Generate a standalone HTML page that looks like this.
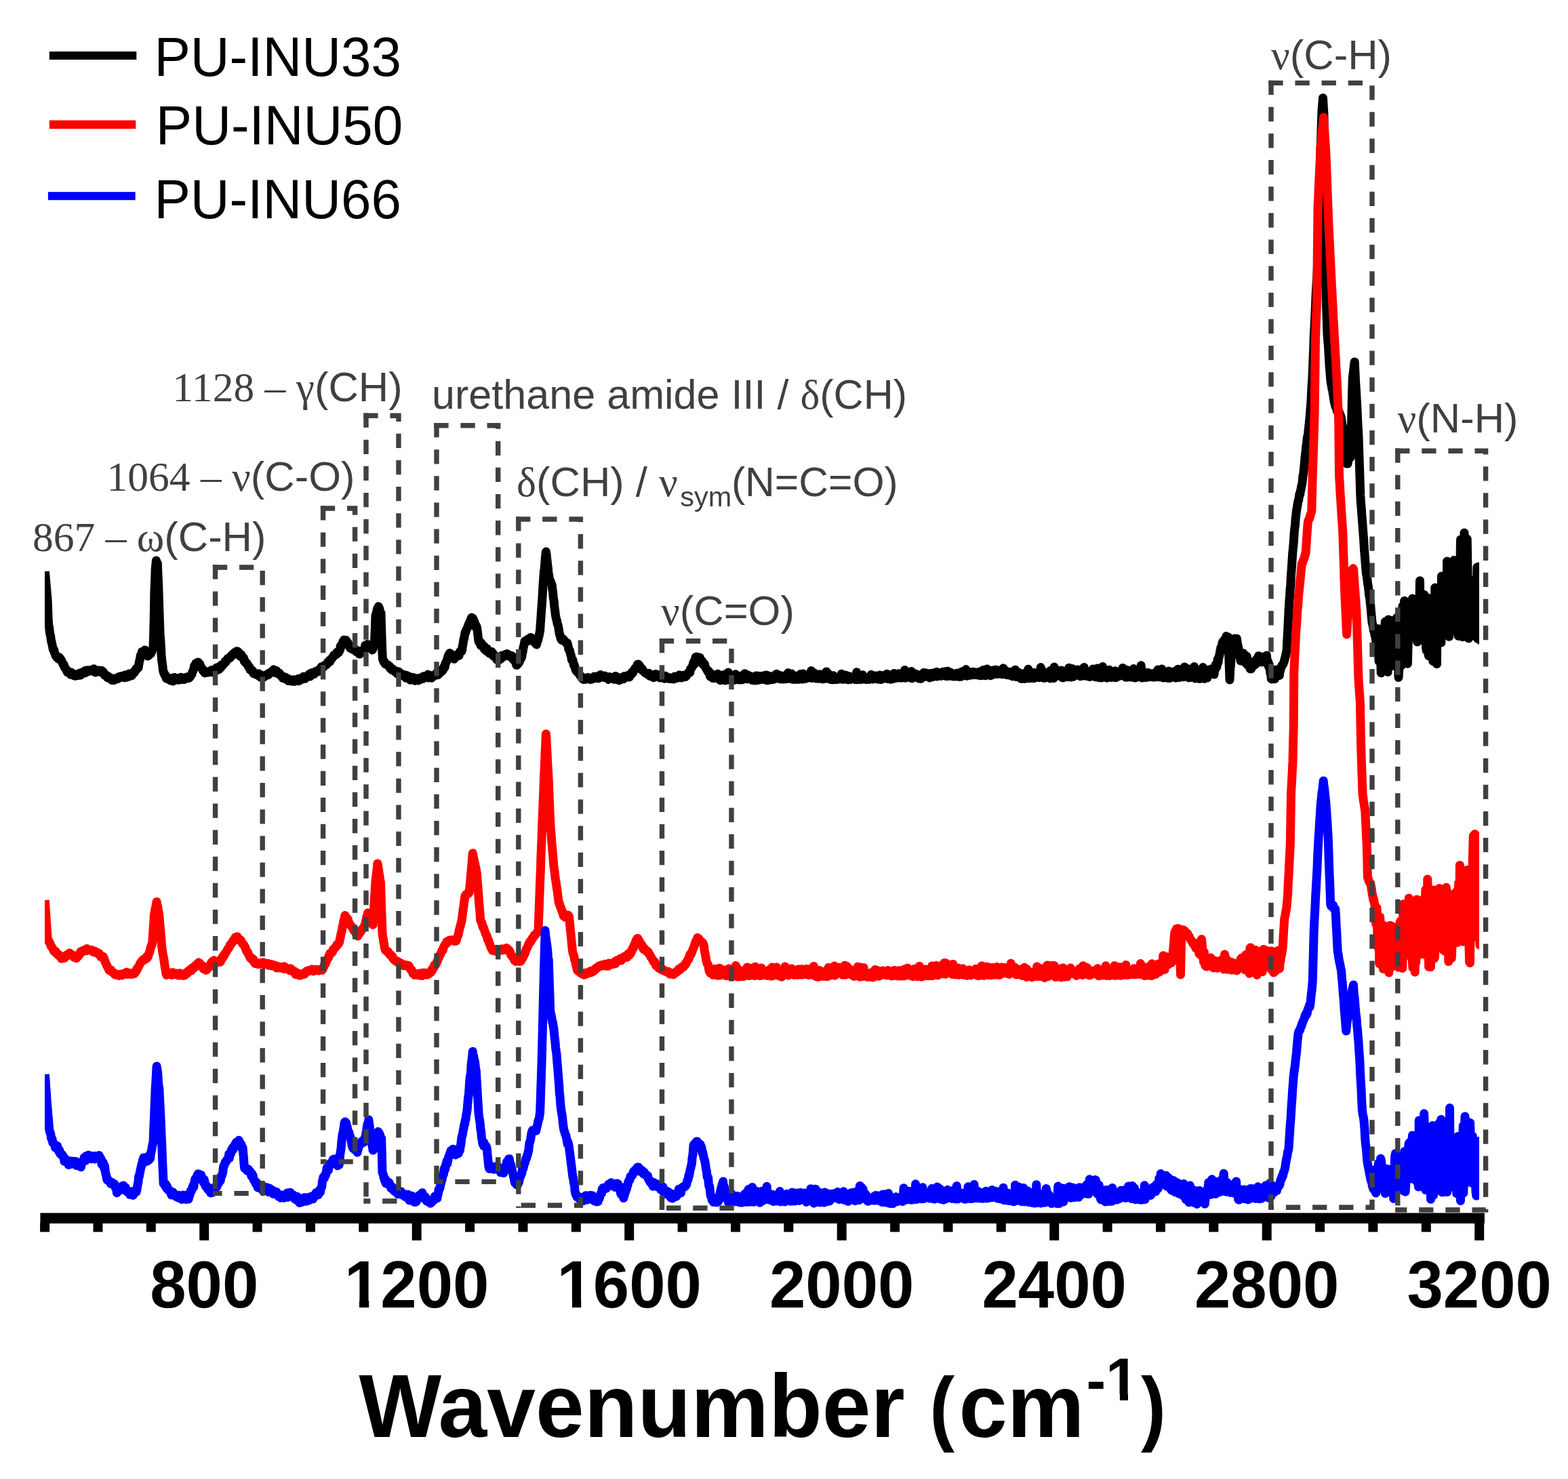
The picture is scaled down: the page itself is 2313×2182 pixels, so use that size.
<!DOCTYPE html>
<html><head><meta charset="utf-8"><title>Raman spectra</title>
<style>html,body{margin:0;padding:0;background:#fff;}svg{display:block;}</style>
</head><body>
<svg width="2313" height="2182" viewBox="0 0 2313 2182">
<defs><clipPath id="c"><rect x="66.1" y="0" width="2116.0" height="2182"/></clipPath></defs>
<rect width="2313" height="2182" fill="#fff"/>
<g clip-path="url(#c)" fill="none" stroke-width="13" stroke-linejoin="round" stroke-linecap="butt">
<polyline stroke="#000" points="66.3,843.0 67.1,851.4 67.8,859.6 68.6,867.7 69.3,876.6 70.1,885.5 70.7,901.5 71.3,916.9 72.0,924.1 72.6,925.4 73.2,931.7 73.9,935.8 74.6,937.8 75.4,945.2 76.1,946.7 76.9,951.0 77.6,954.6 78.3,958.1 79.1,959.7 79.8,958.7 80.5,963.2 81.2,964.2 82.0,967.2 82.7,968.4 83.5,969.1 84.2,970.3 85.0,970.3 85.7,970.3 86.5,972.4 87.2,969.6 88.0,971.5 88.7,971.3 89.5,972.8 90.2,973.5 90.8,974.6 91.5,976.5 92.1,977.6 92.7,979.8 93.4,980.5 94.2,980.3 94.9,983.5 95.6,985.2 96.3,985.4 97.1,986.6 97.8,988.6 98.5,988.4 99.2,991.7 99.9,990.4 100.7,991.2 101.4,990.9 102.1,991.2 102.8,992.3 103.5,991.8 104.2,995.2 104.9,991.9 105.7,994.8 106.4,995.0 107.1,995.3 107.8,996.1 108.6,994.2 109.4,994.6 110.2,997.3 110.9,995.3 111.7,997.2 112.5,996.9 113.3,996.8 114.1,996.1 114.8,996.7 115.6,994.0 116.3,994.6 117.0,995.6 117.8,993.0 118.5,996.2 119.2,993.2 120.0,993.5 120.7,992.0 121.4,993.4 122.2,991.7 122.9,992.3 123.7,991.7 124.5,990.4 125.2,992.9 126.0,989.2 126.8,991.4 127.6,990.9 128.3,990.8 129.1,988.8 129.9,991.0 130.7,990.6 131.4,989.4 132.2,989.3 133.0,988.6 133.8,988.6 134.5,989.8 135.3,988.2 136.1,990.0 136.8,990.0 137.6,988.1 138.4,986.8 139.2,990.0 139.9,990.1 140.7,992.0 141.5,990.8 142.2,990.3 143.0,991.1 143.8,989.3 144.6,990.7 145.4,989.9 146.2,989.1 146.9,990.1 147.7,991.4 148.5,990.1 149.3,989.8 150.1,989.3 150.9,991.8 151.7,990.8 152.4,991.1 153.2,994.3 154.0,993.9 154.8,996.6 155.6,996.1 156.3,997.0 157.1,996.2 157.8,997.9 158.5,999.8 159.3,998.5 160.0,998.0 160.7,999.0 161.5,999.3 162.2,999.4 162.9,999.8 163.7,1002.4 164.4,1002.4 165.2,1003.6 166.0,1001.6 166.8,1002.9 167.6,1002.8 168.3,1003.6 169.1,1001.2 169.9,1000.8 170.7,1001.1 171.4,1001.4 172.2,1000.7 172.9,1000.7 173.7,1001.7 174.4,999.3 175.2,999.9 175.9,998.2 176.7,998.9 177.4,998.0 178.2,998.6 179.0,997.7 179.7,998.3 180.5,998.1 181.2,999.0 182.0,999.6 182.8,996.8 183.5,999.8 184.3,995.9 185.0,998.9 185.8,998.6 186.6,999.2 187.3,997.3 188.1,997.6 188.8,996.7 189.6,998.4 190.3,994.0 191.1,995.7 191.8,994.3 192.6,996.6 193.3,996.1 194.1,996.9 194.9,996.0 195.7,994.5 196.4,993.2 197.2,991.2 198.0,992.8 198.8,991.3 199.6,989.8 200.3,987.7 201.0,986.1 201.7,985.8 202.5,986.8 203.2,985.9 203.9,985.3 204.6,982.3 205.2,977.6 205.9,974.3 206.5,972.6 207.2,967.2 207.9,966.2 208.7,965.6 209.4,961.8 210.2,961.7 210.9,960.9 211.7,960.9 212.4,960.5 213.2,960.4 213.9,958.9 214.7,960.9 215.3,964.4 215.9,964.2 216.6,963.9 217.2,967.2 217.9,968.1 218.7,966.6 219.4,967.0 220.1,965.6 220.8,964.5 221.6,964.2 222.3,964.7 223.0,963.1 223.8,961.6 224.5,959.2 225.3,957.4 226.0,954.6 226.7,935.8 227.3,910.6 227.9,872.9 228.6,857.9 229.2,840.0 229.8,833.9 230.4,827.0 231.0,829.6 231.7,831.0 232.3,831.0 232.9,846.0 233.6,860.3 234.2,879.1 234.8,898.0 235.4,916.4 236.1,935.8 236.7,943.8 237.3,952.8 238.0,965.7 238.6,973.5 239.2,977.9 239.8,981.7 240.5,988.6 241.1,991.1 241.8,993.6 242.5,993.7 243.2,996.1 244.0,996.0 244.7,997.9 245.4,1000.9 246.1,999.9 246.9,1001.5 247.6,1000.1 248.4,1001.5 249.1,1002.4 249.9,1001.1 250.7,1001.0 251.4,1004.0 252.2,1001.6 252.9,1000.6 253.7,1002.4 254.4,1002.5 255.2,1005.0 255.9,1002.9 256.6,1003.2 257.4,999.4 258.1,1001.2 258.8,1003.2 259.6,1001.2 260.3,1003.1 261.0,1002.0 261.8,1001.8 262.5,1001.1 263.2,1003.3 264.0,1000.6 264.7,1000.7 265.4,1001.4 266.2,1001.5 266.9,999.2 267.6,1002.7 268.4,1001.5 269.1,1001.1 269.8,1002.0 270.6,1000.8 271.3,1001.1 272.0,1002.5 272.8,1000.9 273.5,1001.5 274.2,999.4 275.0,999.9 275.7,1000.5 276.4,998.7 277.2,998.8 277.9,999.3 278.6,1000.5 279.4,999.9 280.1,998.6 280.8,998.4 281.5,996.3 282.2,995.6 283.0,994.9 283.7,991.8 284.4,990.7 285.1,988.6 285.9,987.4 286.6,982.3 287.4,982.6 288.1,981.2 288.9,978.5 289.7,979.3 290.4,977.8 291.2,979.1 291.9,976.9 292.7,977.3 293.4,978.5 294.1,981.9 294.8,979.5 295.6,982.3 296.3,983.5 297.0,984.8 297.7,986.0 298.5,986.7 299.2,989.4 300.0,988.6 300.7,989.6 301.5,992.3 302.3,992.9 303.1,990.8 303.8,992.6 304.6,992.0 305.4,991.1 306.2,991.4 306.9,991.6 307.7,992.1 308.5,990.7 309.3,991.1 310.0,989.6 310.8,990.9 311.6,991.0 312.4,988.5 313.2,990.4 313.9,989.6 314.7,992.3 315.5,991.1 316.2,989.0 317.0,990.0 317.8,988.9 318.6,986.9 319.4,985.0 320.1,989.0 320.9,987.8 321.7,984.6 322.4,987.4 323.2,987.5 324.0,986.0 324.8,984.3 325.6,985.1 326.4,981.2 327.2,982.0 328.0,981.4 328.8,981.4 329.6,980.0 330.4,978.8 331.1,978.3 331.9,975.9 332.7,977.5 333.5,974.4 334.3,974.8 335.1,972.9 335.9,971.7 336.7,971.0 337.5,971.2 338.2,970.5 339.0,971.0 339.8,970.1 340.5,967.6 341.3,968.3 342.1,967.3 342.8,965.6 343.6,964.7 344.4,965.8 345.1,964.3 345.9,962.7 346.7,963.7 347.4,963.5 348.2,962.8 349.0,960.7 349.7,960.9 350.5,961.0 351.3,963.7 352.0,962.1 352.8,963.6 353.5,967.8 354.3,966.4 355.1,966.4 355.8,965.7 356.6,969.4 357.3,968.4 358.1,971.0 358.9,971.0 359.6,971.0 360.4,976.0 361.1,974.9 361.9,976.0 362.7,978.2 363.5,979.1 364.2,978.5 365.0,980.5 365.8,981.1 366.6,983.8 367.4,984.3 368.1,984.4 368.9,988.0 369.7,987.7 370.5,988.7 371.3,988.3 372.1,990.9 372.8,989.7 373.6,993.2 374.4,993.7 375.2,992.8 376.0,994.5 376.8,994.2 377.6,995.0 378.4,995.4 379.2,995.2 380.0,995.5 380.8,994.0 381.6,993.8 382.3,997.8 383.1,997.3 383.9,995.1 384.7,999.4 385.5,996.5 386.3,998.3 387.1,998.4 387.9,998.3 388.7,999.2 389.5,998.7 390.3,996.5 391.1,997.6 391.9,996.8 392.7,996.7 393.5,995.7 394.3,994.7 395.1,994.1 395.9,995.5 396.7,992.9 397.4,993.8 398.2,993.3 399.0,992.2 399.8,992.3 400.6,991.9 401.4,990.1 402.2,990.6 403.0,991.9 403.8,987.8 404.6,988.6 405.4,988.9 406.2,989.0 407.0,992.9 407.8,989.5 408.6,991.9 409.4,993.6 410.2,992.1 411.0,993.7 411.8,993.6 412.5,993.5 413.3,995.7 414.1,997.0 414.9,996.6 415.7,997.9 416.5,999.2 417.3,1000.5 418.1,998.2 418.9,1001.1 419.7,1001.0 420.5,1000.5 421.3,999.2 422.1,1000.7 422.9,1002.6 423.7,1002.4 424.5,1000.9 425.3,1004.4 426.1,1003.2 426.9,1002.8 427.6,1002.5 428.4,1003.8 429.2,1003.1 430.0,1005.1 430.8,1004.3 431.6,1004.9 432.4,1004.0 433.2,1002.8 434.0,1005.4 434.8,1005.0 435.6,1003.5 436.4,1004.3 437.2,1004.1 438.0,1002.9 438.8,1004.6 439.6,1001.6 440.4,1004.8 441.2,1002.0 442.0,1003.6 442.8,1003.7 443.6,1000.8 444.4,1000.7 445.2,1002.4 446.0,1001.2 446.8,1000.8 447.6,998.2 448.4,998.2 449.2,1000.5 450.0,1001.3 450.8,998.4 451.6,998.0 452.4,998.7 453.2,998.6 453.9,998.5 454.7,998.2 455.5,996.6 456.2,994.4 457.0,998.1 457.8,995.3 458.5,997.0 459.3,992.8 460.1,995.2 460.8,993.8 461.6,992.7 462.3,994.7 463.1,994.7 463.9,992.1 464.6,993.1 465.4,990.7 466.2,990.8 466.9,990.9 467.7,990.4 468.5,991.2 469.2,988.6 470.0,989.6 470.8,990.2 471.6,989.6 472.4,987.5 473.2,985.8 474.0,983.8 474.8,985.9 475.6,984.5 476.4,984.8 477.1,984.2 477.8,982.1 478.5,982.7 479.2,981.9 480.0,981.3 480.7,980.9 481.4,980.2 482.1,980.3 482.8,978.4 483.5,976.8 484.2,977.9 484.9,976.5 485.5,975.2 486.2,973.8 486.9,976.0 487.6,973.6 488.4,973.0 489.2,971.2 490.0,971.0 490.8,970.0 491.6,968.5 492.4,966.6 493.2,967.5 494.0,966.4 494.8,965.5 495.6,964.7 496.4,965.5 497.2,962.0 498.0,961.8 498.8,962.4 499.6,962.5 500.4,960.8 501.0,959.8 501.7,958.1 502.3,952.9 503.0,954.4 503.6,952.0 504.4,950.9 505.2,949.6 506.0,946.4 506.8,946.2 507.6,944.0 508.3,945.7 509.0,946.9 509.7,945.8 510.4,944.4 511.1,946.6 511.8,947.8 512.5,948.1 513.2,948.0 514.0,952.3 514.8,951.8 515.6,952.8 516.4,956.0 517.0,955.3 517.7,956.8 518.3,955.1 519.0,954.8 519.6,956.0 520.3,955.5 521.0,958.4 521.7,957.8 522.4,957.6 523.1,959.5 523.8,959.8 524.5,958.4 525.2,960.0 526.0,961.7 526.8,961.7 527.6,959.7 528.4,961.5 529.2,963.9 530.0,964.9 530.8,965.0 531.5,964.0 532.2,962.6 532.9,963.4 533.6,960.3 534.3,962.6 535.0,961.1 535.7,960.6 536.4,960.0 537.2,957.5 538.0,957.5 538.8,952.0 539.6,952.0 540.4,951.2 541.2,951.9 542.0,950.4 542.8,953.0 543.6,951.7 544.4,951.2 545.1,951.4 545.8,954.8 546.5,954.5 547.1,956.4 547.8,956.1 548.5,957.2 549.2,959.0 550.0,957.5 550.8,954.5 551.6,951.1 552.4,949.6 552.8,939.8 553.2,932.0 554.0,908.0 554.8,905.6 555.6,903.7 556.4,898.4 557.0,897.3 557.7,898.9 558.3,894.7 559.0,896.1 559.6,897.5 560.4,900.8 561.2,904.3 562.0,904.8 562.8,932.0 563.2,944.1 563.6,956.0 564.4,972.0 565.0,974.0 565.7,974.9 566.3,977.1 567.0,975.9 567.6,978.4 568.4,979.8 569.2,979.1 570.0,979.9 570.8,980.9 571.6,981.2 572.4,981.1 573.2,982.4 574.0,983.2 574.8,982.8 575.6,986.3 576.4,986.0 577.2,985.3 578.0,988.3 578.8,988.6 579.6,988.3 580.4,987.7 581.2,989.3 582.0,989.6 582.8,990.7 583.6,991.9 584.4,990.4 585.2,990.3 586.0,994.0 586.8,993.2 587.6,992.3 588.4,991.1 589.2,993.1 590.0,992.8 590.8,994.7 591.6,994.7 592.4,995.3 593.2,994.8 594.0,996.6 594.8,995.0 595.6,995.7 596.4,996.1 597.2,996.4 598.0,997.6 598.8,1000.3 599.6,996.3 600.4,998.9 601.2,997.8 602.0,997.8 602.8,999.7 603.6,998.0 604.4,1000.1 605.2,1003.3 606.0,1000.8 606.8,1000.8 607.6,1001.6 608.4,1000.2 609.2,1001.9 610.0,999.6 610.8,1001.7 611.6,1001.4 612.4,1004.3 613.2,1001.7 614.0,1001.5 614.8,1001.3 615.6,1000.7 616.4,1003.1 617.2,1004.0 618.0,1002.4 618.8,1001.7 619.5,1002.7 620.3,1001.2 621.1,1001.8 621.8,1001.6 622.6,999.1 623.4,999.6 624.2,1001.3 624.9,997.7 625.7,999.7 626.5,999.0 627.2,998.0 628.0,998.8 628.8,998.7 629.6,998.9 630.4,999.0 631.2,995.1 632.0,1000.0 632.8,997.3 633.6,999.0 634.4,997.4 635.1,996.7 635.9,997.2 636.7,1000.2 637.5,998.8 638.3,996.4 639.1,996.9 639.9,997.8 640.7,996.3 641.5,996.5 642.3,995.5 643.0,994.7 643.8,993.1 644.6,994.9 645.4,994.8 646.2,995.7 647.0,991.9 647.7,992.9 648.5,991.6 649.3,992.7 650.1,990.6 650.9,989.4 651.6,987.7 652.4,990.1 653.2,988.8 654.0,987.1 654.8,986.3 655.5,982.3 656.3,984.2 657.1,978.3 657.9,977.8 658.6,975.7 659.4,974.6 660.2,971.2 661.0,968.3 661.7,966.3 662.5,966.5 663.3,963.6 664.0,964.5 664.8,965.5 665.5,964.8 666.3,966.7 667.0,967.6 667.8,968.8 668.5,967.0 669.3,968.6 670.0,972.3 670.8,971.0 671.6,969.8 672.4,969.4 673.2,968.2 673.9,966.1 674.7,965.9 675.5,966.8 676.3,964.8 677.1,967.3 677.9,962.3 678.6,961.0 679.4,962.1 680.2,960.3 681.0,961.0 681.7,958.7 682.4,952.6 683.1,949.8 683.9,943.5 684.6,942.1 685.3,938.1 686.0,933.4 686.8,933.2 687.5,930.2 688.3,928.8 689.1,926.7 689.8,925.9 690.6,922.6 691.4,922.0 692.2,918.9 692.9,918.7 693.7,915.8 694.5,913.7 695.2,911.9 696.0,911.0 696.8,914.2 697.5,912.1 698.2,913.7 699.0,917.7 699.8,917.2 700.5,919.4 701.2,920.8 702.0,925.6 702.8,923.6 703.5,925.9 704.1,930.0 704.8,935.5 705.4,941.2 706.0,946.0 706.8,947.6 707.6,946.2 708.3,949.4 709.1,952.2 709.9,948.7 710.7,952.5 711.4,953.7 712.2,953.9 713.0,954.5 713.8,952.9 714.5,958.1 715.3,957.2 716.1,958.6 716.9,958.7 717.7,960.8 718.4,956.9 719.2,960.0 720.0,961.2 720.8,961.8 721.5,962.0 722.3,964.1 723.1,962.4 723.9,963.7 724.6,963.8 725.4,961.4 726.2,963.6 727.0,963.7 727.7,968.1 728.5,966.3 729.2,967.6 730.0,967.1 730.7,969.2 731.5,969.1 732.2,970.9 733.0,973.4 733.7,973.7 734.5,972.2 735.3,972.0 736.1,973.9 736.9,972.3 737.6,971.9 738.4,972.0 739.2,969.7 740.0,969.4 740.8,966.9 741.6,969.8 742.4,968.2 743.1,967.9 743.9,966.1 744.7,967.7 745.5,967.2 746.3,966.0 747.1,966.4 747.9,964.5 748.6,965.6 749.4,966.8 750.2,966.0 751.0,967.7 751.7,968.6 752.5,966.7 753.3,967.6 754.1,967.2 754.8,969.4 755.6,969.5 756.4,968.6 757.2,973.3 758.0,971.8 758.7,972.2 759.5,975.4 760.3,976.2 761.0,978.3 761.8,981.1 762.6,981.2 763.4,979.6 764.2,979.5 765.0,974.8 765.8,977.4 766.6,975.0 767.4,973.3 768.2,971.7 769.0,971.0 769.7,969.1 770.4,963.3 771.1,961.8 771.9,956.1 772.6,953.2 773.3,950.0 774.0,946.0 774.8,948.1 775.5,945.5 776.3,945.1 777.1,944.4 777.8,943.7 778.6,943.0 779.4,945.5 780.2,944.7 780.9,941.7 781.7,942.4 782.5,940.4 783.2,942.5 784.0,941.0 784.8,942.8 785.5,943.2 786.3,943.0 787.0,945.9 787.8,946.8 788.6,946.8 789.3,948.9 790.1,947.4 790.8,949.3 791.6,951.0 792.3,947.0 793.0,945.4 793.7,944.4 794.5,939.6 795.2,938.1 795.9,933.8 796.6,931.0 797.3,919.7 798.0,910.7 798.7,899.3 799.5,889.6 800.2,878.3 800.9,865.3 801.6,855.5 802.4,844.2 803.1,839.1 803.9,829.2 804.6,820.6 805.4,814.0 806.1,818.2 806.8,825.1 807.5,831.6 808.3,837.7 809.0,846.1 809.7,848.1 810.4,855.5 811.2,857.0 811.9,857.0 812.7,858.8 813.4,861.6 814.2,863.0 814.9,869.6 815.6,873.7 816.3,882.7 817.1,886.3 817.8,894.7 818.5,899.6 819.2,905.8 820.0,910.4 820.7,913.5 821.5,916.0 822.2,920.5 823.0,921.8 823.8,925.4 824.5,930.0 825.3,935.6 826.0,936.6 826.8,941.0 827.6,940.9 828.3,944.2 829.1,942.8 829.9,943.3 830.6,942.6 831.4,944.5 832.2,945.8 833.0,945.6 833.7,947.1 834.5,947.2 835.3,948.6 836.0,948.9 836.8,948.5 837.5,950.8 838.3,954.5 839.0,958.2 839.7,958.9 840.4,959.5 841.2,963.7 841.9,966.0 842.6,968.0 843.4,973.7 844.1,973.7 844.9,973.8 845.6,977.2 846.4,981.4 847.1,980.6 847.9,983.6 848.6,986.5 849.4,988.8 850.2,989.6 851.0,990.0 851.7,991.8 852.5,990.9 853.3,992.9 854.1,993.8 854.8,995.2 855.6,996.1 856.4,997.4 857.2,998.0 857.9,998.9 858.7,1000.8 859.5,1001.3 860.3,1002.4 861.1,1002.4 861.8,999.9 862.6,1001.6 863.4,1002.2 864.2,1001.0 865.0,1001.8 865.8,1001.0 866.5,1001.7 867.3,999.4 868.1,1001.8 868.9,1000.7 869.7,1000.4 870.4,1000.9 871.2,1002.5 872.0,1001.3 872.8,1002.2 873.6,1001.2 874.4,1001.7 875.2,1000.0 876.0,998.8 876.8,997.9 877.6,999.9 878.4,999.5 879.2,999.6 879.9,999.4 880.7,1000.6 881.5,997.8 882.3,997.8 883.1,1000.8 883.9,999.3 884.7,997.8 885.5,995.5 886.3,996.7 887.1,997.6 887.9,997.3 888.7,997.7 889.5,998.2 890.3,997.8 891.1,999.6 891.9,996.9 892.7,998.1 893.5,997.8 894.3,999.6 895.0,999.0 895.8,999.9 896.6,999.2 897.4,1002.4 898.2,1000.2 899.0,998.6 899.8,999.6 900.6,999.2 901.4,1000.7 902.2,1000.0 903.0,1001.2 903.8,1000.6 904.6,1000.0 905.4,999.4 906.2,1002.2 907.0,1001.7 907.8,997.4 908.6,1000.6 909.4,999.6 910.1,1000.2 910.9,1002.8 911.7,999.4 912.5,999.6 913.3,1003.9 914.1,1000.4 914.9,1000.8 915.7,1002.5 916.5,1000.6 917.3,1001.3 918.1,1000.9 918.9,1000.8 919.7,1001.8 920.5,997.8 921.3,998.3 922.1,998.8 922.9,999.6 923.7,997.4 924.5,998.3 925.2,996.7 926.0,996.5 926.8,998.1 927.6,995.9 928.4,998.9 929.2,995.8 930.0,996.3 930.8,995.5 931.6,992.3 932.4,993.8 933.1,990.8 933.9,992.1 934.6,989.0 935.3,988.5 936.1,987.6 936.8,985.8 937.5,987.2 938.3,985.5 939.0,983.7 939.7,983.0 940.5,980.1 941.2,980.0 942.0,982.1 942.8,981.0 943.6,985.0 944.4,983.3 945.2,984.5 946.0,987.6 946.8,988.0 947.6,987.1 948.4,990.0 949.2,990.3 950.0,991.3 950.8,991.6 951.6,992.7 952.4,993.0 953.1,993.8 953.9,993.4 954.7,993.6 955.5,993.4 956.3,995.6 957.1,993.2 957.9,996.7 958.7,997.4 959.5,997.7 960.2,995.2 961.0,998.2 961.8,997.4 962.6,996.3 963.4,997.7 964.2,999.7 965.0,996.9 965.8,997.5 966.6,995.5 967.4,994.4 968.2,997.6 969.0,997.9 969.8,998.3 970.5,998.0 971.3,995.4 972.1,998.3 972.9,999.4 973.7,1000.0 974.5,997.1 975.3,997.3 976.1,997.7 976.9,997.9 977.7,998.8 978.5,997.0 979.3,998.3 980.1,1001.2 980.9,998.2 981.6,997.3 982.4,999.4 983.2,999.3 984.0,1000.9 984.8,999.3 985.6,1000.1 986.4,999.5 987.1,999.5 987.9,1001.3 988.7,1001.1 989.5,1001.1 990.3,1001.3 991.1,1001.8 991.9,1000.0 992.6,1000.9 993.4,1000.9 994.2,1001.9 995.0,998.1 995.8,999.8 996.5,1000.6 997.3,999.2 998.1,999.8 998.9,1000.4 999.7,1000.0 1000.5,997.2 1001.2,997.7 1002.0,995.8 1002.8,998.8 1003.6,999.4 1004.3,998.8 1005.1,1000.0 1005.8,998.3 1006.6,996.7 1007.3,999.3 1008.1,996.2 1008.8,997.7 1009.6,997.3 1010.3,998.3 1011.1,998.4 1011.8,996.6 1012.6,997.0 1013.3,995.0 1014.1,994.7 1014.8,992.9 1015.6,993.6 1016.3,991.7 1017.0,991.8 1017.8,992.1 1018.5,986.8 1019.3,986.0 1020.0,985.6 1020.8,984.5 1021.5,982.8 1022.3,980.2 1023.1,976.9 1023.9,980.4 1024.6,975.7 1025.4,972.6 1026.2,969.4 1026.9,972.3 1027.7,969.0 1028.5,970.1 1029.2,970.4 1030.0,969.8 1030.8,971.6 1031.5,972.0 1032.3,970.1 1033.1,977.0 1033.9,975.1 1034.6,974.8 1035.4,974.7 1036.2,975.9 1036.9,980.2 1037.7,978.0 1038.5,980.0 1039.3,979.5 1040.0,983.7 1040.8,984.8 1041.6,986.4 1042.4,986.9 1043.1,988.3 1043.9,990.5 1044.7,991.1 1045.5,990.2 1046.2,992.3 1047.0,996.0 1047.8,998.2 1048.6,993.6 1049.3,997.4 1050.1,999.6 1050.9,998.7 1051.6,1000.6 1052.4,1000.3 1053.2,1000.6 1054.0,1000.5 1054.7,999.0 1055.5,998.6 1056.3,997.1 1057.0,1000.3 1057.8,1000.7 1058.6,994.3 1059.3,1000.4 1060.1,1000.4 1060.9,999.8 1061.6,997.5 1062.4,1003.7 1063.2,1003.3 1064.0,1001.4 1064.7,1001.8 1065.5,1002.8 1066.3,1000.2 1067.0,1002.2 1067.8,995.4 1068.6,1001.9 1069.3,1003.9 1070.1,1001.4 1070.9,1003.3 1071.7,1000.1 1072.4,1003.3 1073.2,1000.6 1074.0,991.9 1074.7,1000.9 1075.5,999.5 1076.3,1001.6 1077.1,998.2 1077.9,999.8 1078.7,1001.2 1079.5,999.8 1080.3,1002.2 1081.1,1000.1 1081.9,996.0 1082.7,997.4 1083.5,1001.2 1084.3,1003.2 1085.1,994.8 1085.9,996.0 1086.7,1000.7 1087.5,1002.0 1088.2,1002.4 1089.0,999.3 1089.8,999.9 1090.6,1003.0 1091.4,999.5 1092.2,1003.0 1093.0,998.1 1093.8,999.0 1094.6,996.6 1095.4,1002.8 1096.2,1001.9 1097.0,1000.8 1097.8,998.9 1098.6,993.7 1099.4,1000.1 1100.2,1000.9 1101.0,997.6 1101.8,999.8 1102.6,1001.8 1103.4,999.9 1104.2,996.3 1105.0,999.8 1105.8,998.3 1106.6,1002.0 1107.4,1002.2 1108.2,1001.4 1109.0,1003.3 1109.8,998.3 1110.6,1000.5 1111.4,1003.7 1112.2,1000.9 1112.9,1000.4 1113.7,1002.8 1114.5,1004.0 1115.3,997.0 1116.1,1003.0 1116.9,1001.5 1117.7,998.3 1118.5,997.2 1119.3,1003.3 1120.1,1002.7 1120.9,1002.8 1121.7,997.4 1122.5,1000.4 1123.3,1000.7 1124.1,998.5 1124.9,1001.4 1125.7,1001.0 1126.5,996.8 1127.3,1002.7 1128.1,1002.8 1128.9,1002.5 1129.7,997.2 1130.5,995.9 1131.3,1003.7 1132.1,1001.4 1132.9,1003.7 1133.7,1002.1 1134.5,997.2 1135.3,1002.4 1136.1,1001.1 1136.9,1000.3 1137.7,1002.7 1138.4,1002.7 1139.2,1001.6 1140.0,1002.0 1140.8,999.5 1141.6,1002.1 1142.4,1001.6 1143.2,995.9 1144.0,1001.2 1144.8,995.6 1145.6,994.2 1146.4,999.1 1147.2,999.7 1148.0,999.6 1148.8,1001.0 1149.6,1000.2 1150.4,996.4 1151.2,1001.9 1152.0,1000.7 1152.8,999.2 1153.6,998.8 1154.4,1002.0 1155.2,1002.0 1156.0,997.3 1156.8,998.1 1157.6,999.2 1158.4,1001.8 1159.2,997.7 1160.0,995.7 1160.8,1000.6 1161.6,1000.8 1162.4,992.8 1163.1,1001.3 1163.9,999.9 1164.7,999.3 1165.5,997.6 1166.3,1000.2 1167.1,995.3 1167.9,994.1 1168.7,1002.2 1169.5,1000.6 1170.3,996.9 1171.1,1001.8 1171.9,1002.4 1172.7,999.4 1173.5,997.7 1174.3,1001.1 1175.1,1002.3 1175.9,1001.5 1176.7,996.9 1177.5,1000.8 1178.3,1002.3 1179.1,1001.3 1179.9,1000.0 1180.7,994.6 1181.5,997.6 1182.3,1001.7 1183.1,999.1 1183.9,1002.0 1184.7,993.9 1185.5,998.8 1186.3,1001.3 1187.1,996.3 1187.8,1001.5 1188.6,1000.2 1189.4,1000.5 1190.2,998.2 1191.0,999.9 1191.8,999.7 1192.6,1000.1 1193.4,997.4 1194.2,997.2 1195.0,998.6 1195.8,996.6 1196.6,989.6 1197.4,1000.4 1198.2,998.1 1199.0,999.1 1199.8,999.3 1200.6,999.0 1201.4,993.2 1202.2,997.6 1203.0,997.4 1203.8,1001.1 1204.6,1000.9 1205.4,997.3 1206.2,995.6 1207.0,998.1 1207.8,1001.2 1208.6,995.5 1209.4,994.8 1210.2,999.2 1211.0,1000.1 1211.8,1000.6 1212.6,995.8 1213.3,1001.9 1214.1,999.0 1214.9,998.4 1215.7,1001.4 1216.5,1000.1 1217.3,992.5 1218.1,997.3 1218.9,990.9 1219.7,998.9 1220.5,1001.3 1221.3,993.1 1222.1,994.4 1222.9,1001.1 1223.7,997.9 1224.5,1000.0 1225.3,1002.6 1226.1,1000.9 1226.9,1000.1 1227.7,998.3 1228.5,1002.8 1229.3,996.8 1230.1,998.7 1230.9,1000.3 1231.7,1002.6 1232.5,1002.6 1233.3,1002.6 1234.1,1001.1 1234.9,1002.0 1235.7,1001.0 1236.5,1002.3 1237.3,1000.0 1238.0,1000.8 1238.8,1000.6 1239.6,1000.6 1240.4,1001.8 1241.2,994.2 1242.0,1001.7 1242.8,1002.2 1243.6,999.9 1244.4,1002.1 1245.2,1000.7 1246.0,999.0 1246.8,1002.0 1247.6,996.1 1248.4,999.1 1249.2,1000.1 1250.0,998.0 1250.8,1002.8 1251.6,1002.0 1252.4,997.6 1253.2,1000.4 1254.0,1002.6 1254.8,999.9 1255.6,999.7 1256.4,1001.3 1257.2,998.7 1258.0,1001.6 1258.8,999.1 1259.6,1001.3 1260.4,1000.5 1261.2,998.0 1262.0,1002.6 1262.8,997.4 1263.6,991.8 1264.4,1002.7 1265.2,999.1 1266.0,1001.1 1266.8,1000.1 1267.6,998.9 1268.4,1002.5 1269.2,999.5 1270.0,998.4 1270.8,1002.1 1271.6,1002.3 1272.4,995.8 1273.2,999.3 1274.0,1000.0 1274.8,1001.2 1275.6,999.5 1276.4,1002.2 1277.2,1000.3 1278.0,1002.6 1278.8,1000.5 1279.6,1000.2 1280.4,1001.8 1281.2,1000.7 1281.9,1002.4 1282.7,1002.1 1283.5,1001.0 1284.3,998.8 1285.1,995.3 1285.9,1000.3 1286.7,1002.0 1287.5,998.6 1288.3,996.9 1289.1,997.9 1289.9,999.8 1290.7,1001.4 1291.5,997.0 1292.3,1000.0 1293.1,1000.9 1293.9,1000.9 1294.7,1002.0 1295.5,1001.3 1296.3,1002.1 1297.1,998.8 1297.9,996.0 1298.7,1000.8 1299.5,1002.6 1300.3,998.7 1301.1,1001.0 1301.9,1001.7 1302.7,997.1 1303.5,996.5 1304.3,999.6 1305.1,998.6 1305.9,999.4 1306.7,999.9 1307.5,995.1 1308.3,994.2 1309.1,1001.6 1309.9,995.7 1310.7,998.1 1311.5,998.2 1312.3,997.6 1313.1,1000.8 1313.9,1002.2 1314.7,995.7 1315.5,996.8 1316.3,999.2 1317.1,1001.5 1317.9,1000.7 1318.7,993.5 1319.5,1000.7 1320.3,1000.8 1321.1,1000.0 1321.9,999.0 1322.7,996.9 1323.5,994.6 1324.3,998.8 1325.1,999.9 1325.9,993.8 1326.7,998.7 1327.5,997.9 1328.3,999.9 1329.1,999.1 1329.9,999.7 1330.7,1000.1 1331.5,997.7 1332.3,997.2 1333.1,991.9 1333.9,999.2 1334.7,988.5 1335.5,1000.2 1336.3,997.9 1337.1,997.7 1337.9,993.8 1338.7,998.9 1339.5,995.6 1340.3,997.8 1341.1,993.4 1341.9,999.5 1342.7,999.5 1343.5,1000.2 1344.3,990.4 1345.1,998.9 1345.8,1000.7 1346.6,995.1 1347.4,997.0 1348.2,998.9 1349.0,993.7 1349.8,999.1 1350.6,995.1 1351.4,998.6 1352.2,997.9 1353.0,998.1 1353.8,995.3 1354.6,998.4 1355.4,1001.0 1356.2,996.7 1357.0,999.9 1357.8,1000.8 1358.6,1001.3 1359.4,1000.6 1360.2,998.8 1361.0,994.9 1361.8,998.9 1362.6,992.4 1363.4,992.8 1364.2,998.3 1365.0,997.5 1365.8,993.0 1366.6,997.0 1367.4,997.2 1368.2,993.9 1369.0,996.7 1369.8,997.5 1370.6,997.4 1371.4,999.9 1372.2,995.1 1373.0,993.5 1373.8,997.5 1374.6,993.6 1375.4,998.6 1376.2,998.7 1377.0,995.7 1377.8,997.2 1378.6,992.4 1379.4,992.8 1380.2,994.0 1381.0,995.4 1381.8,991.3 1382.6,998.1 1383.4,996.7 1384.2,993.7 1385.0,995.5 1385.8,994.2 1386.6,996.8 1387.4,992.6 1388.2,997.4 1389.0,994.6 1389.8,993.6 1390.6,991.2 1391.4,994.6 1392.2,996.4 1393.0,992.1 1393.8,990.8 1394.6,996.0 1395.4,997.4 1396.2,992.9 1397.0,996.5 1397.8,990.2 1398.6,997.6 1399.4,994.6 1400.2,997.3 1401.0,993.2 1401.8,991.9 1402.6,997.3 1403.4,993.9 1404.2,997.1 1405.0,996.2 1405.8,998.0 1406.6,997.3 1407.4,998.1 1408.1,995.9 1408.9,993.7 1409.7,994.7 1410.5,994.7 1411.3,995.7 1412.1,998.1 1412.9,993.1 1413.7,997.8 1414.5,994.2 1415.3,998.4 1416.1,997.9 1416.9,996.9 1417.7,998.2 1418.5,991.0 1419.3,991.6 1420.1,996.8 1420.9,990.8 1421.7,992.8 1422.5,994.6 1423.3,993.0 1424.1,988.8 1424.9,987.6 1425.7,996.6 1426.5,997.2 1427.3,992.1 1428.1,995.6 1428.9,990.9 1429.7,993.7 1430.5,993.1 1431.3,996.3 1432.1,993.4 1432.9,995.6 1433.7,994.6 1434.5,995.7 1435.3,991.2 1436.1,994.3 1436.9,991.6 1437.7,993.9 1438.5,994.5 1439.3,994.1 1440.1,995.8 1440.9,994.7 1441.7,992.1 1442.5,992.9 1443.3,993.4 1444.1,992.7 1444.9,991.0 1445.7,996.8 1446.5,993.2 1447.3,995.2 1448.1,996.6 1448.9,995.7 1449.7,992.6 1450.5,988.4 1451.3,996.3 1452.1,995.1 1452.9,994.7 1453.7,996.7 1454.5,987.7 1455.3,991.9 1456.1,987.0 1456.9,993.3 1457.7,991.6 1458.5,990.8 1459.3,992.6 1460.1,995.3 1460.9,996.7 1461.7,992.8 1462.5,995.2 1463.3,995.9 1464.1,994.4 1464.9,989.0 1465.7,991.5 1466.5,991.4 1467.3,989.1 1468.1,988.1 1468.9,993.3 1469.6,994.4 1470.4,989.4 1471.2,994.1 1472.0,989.0 1472.8,994.4 1473.6,993.8 1474.4,991.0 1475.2,994.0 1476.0,990.2 1476.8,992.7 1477.6,988.8 1478.4,994.8 1479.2,990.2 1480.0,985.8 1480.8,990.7 1481.6,992.0 1482.4,988.7 1483.2,994.7 1484.0,994.8 1484.8,995.6 1485.6,992.6 1486.4,993.0 1487.2,991.1 1488.0,996.1 1488.8,995.7 1489.6,996.0 1490.4,995.3 1491.2,993.7 1492.0,993.8 1492.8,991.1 1493.6,997.9 1494.4,997.5 1495.2,995.1 1496.0,995.4 1496.8,994.6 1497.6,988.2 1498.4,997.1 1499.2,998.6 1500.0,993.5 1500.8,997.8 1501.6,992.1 1502.4,994.1 1503.2,992.2 1504.0,995.4 1504.8,997.5 1505.6,994.4 1506.4,1001.4 1507.2,997.8 1508.0,994.6 1508.8,993.9 1509.6,993.7 1510.4,996.0 1511.2,1001.5 1512.0,998.4 1512.8,994.9 1513.6,997.3 1514.4,991.6 1515.2,1000.8 1516.0,995.1 1516.8,987.2 1517.6,988.8 1518.4,995.4 1519.2,1000.8 1520.0,998.8 1520.8,997.6 1521.6,998.6 1522.4,997.0 1523.2,999.2 1524.0,998.9 1524.8,1000.7 1525.6,992.5 1526.4,999.0 1527.2,998.2 1528.0,999.1 1528.8,995.8 1529.6,999.2 1530.4,997.2 1531.2,995.8 1532.0,999.0 1532.8,999.7 1533.6,998.8 1534.4,999.1 1535.2,984.6 1536.0,995.4 1536.8,988.2 1537.6,992.0 1538.4,999.9 1539.2,993.9 1540.0,991.8 1540.8,1000.4 1541.6,994.2 1542.4,996.8 1543.2,994.0 1544.0,999.2 1544.8,994.8 1545.6,995.8 1546.4,993.4 1547.2,998.9 1548.0,998.2 1548.8,1000.9 1549.6,989.2 1550.4,999.5 1551.2,999.2 1552.0,993.3 1552.8,994.1 1553.6,994.7 1554.4,1000.5 1555.2,984.1 1556.0,994.3 1556.8,994.7 1557.6,997.4 1558.4,994.6 1559.2,993.7 1560.0,996.8 1560.8,993.7 1561.6,989.7 1562.4,992.5 1563.2,996.6 1564.0,994.6 1564.8,991.4 1565.6,988.9 1566.4,999.3 1567.2,999.9 1568.0,999.8 1568.8,997.9 1569.6,999.5 1570.4,998.2 1571.2,996.7 1572.0,997.3 1572.8,995.9 1573.6,997.4 1574.4,995.3 1575.2,998.8 1576.0,995.7 1576.8,985.3 1577.6,988.2 1578.4,989.9 1579.2,998.8 1580.0,999.0 1580.8,998.9 1581.6,986.5 1582.4,986.8 1583.2,998.2 1584.0,990.6 1584.8,997.2 1585.6,995.7 1586.4,989.4 1587.2,992.3 1588.0,993.5 1588.8,992.1 1589.6,988.0 1590.4,994.5 1591.2,994.2 1592.0,993.6 1592.8,988.6 1593.6,997.7 1594.4,993.5 1595.2,997.4 1596.0,993.9 1596.8,994.4 1597.6,996.3 1598.4,996.8 1599.2,984.4 1600.0,993.7 1600.8,997.1 1601.6,997.0 1602.4,996.3 1603.2,995.4 1604.0,997.7 1604.8,996.7 1605.6,993.1 1606.4,995.0 1607.2,998.6 1608.0,997.9 1608.8,994.4 1609.6,993.6 1610.4,996.4 1611.2,997.4 1612.0,987.1 1612.8,993.5 1613.6,988.3 1614.4,995.8 1615.2,989.1 1616.0,998.8 1616.8,990.1 1617.6,999.0 1618.4,986.0 1619.2,995.0 1620.0,994.7 1620.8,988.9 1621.6,995.3 1622.4,999.8 1623.2,991.0 1624.0,999.4 1624.8,1000.0 1625.6,996.9 1626.4,983.6 1627.2,989.2 1628.0,995.1 1628.8,998.3 1629.6,998.6 1630.4,998.4 1631.2,994.7 1632.0,995.8 1632.8,1000.2 1633.6,996.7 1634.4,998.9 1635.2,997.7 1636.0,988.3 1636.8,997.8 1637.6,993.8 1638.4,994.7 1639.2,999.5 1640.0,997.9 1640.8,996.5 1641.6,997.8 1642.4,995.9 1643.2,997.4 1644.0,998.9 1644.8,989.8 1645.6,999.8 1646.4,991.5 1647.2,994.4 1648.0,992.0 1648.8,994.7 1649.6,998.2 1650.4,996.3 1651.2,995.0 1652.0,994.5 1652.8,990.8 1653.6,992.8 1654.4,995.6 1655.2,993.0 1656.0,985.5 1656.8,996.9 1657.6,993.0 1658.4,992.6 1659.2,997.9 1660.0,999.0 1660.8,996.0 1661.6,999.2 1662.4,988.5 1663.2,992.2 1664.0,997.8 1664.8,990.7 1665.6,998.8 1666.4,994.0 1667.2,998.3 1668.0,999.1 1668.8,994.6 1669.6,996.1 1670.4,999.2 1671.2,996.7 1672.0,986.6 1672.8,998.3 1673.6,995.9 1674.4,1000.0 1675.2,993.6 1676.0,994.2 1676.8,988.5 1677.6,990.2 1678.4,998.8 1679.2,994.3 1680.0,987.4 1680.8,995.3 1681.6,990.2 1682.4,993.0 1683.2,981.7 1684.0,992.1 1684.8,1000.1 1685.6,997.1 1686.4,996.6 1687.2,995.7 1688.0,995.4 1688.8,996.3 1689.6,994.5 1690.4,999.5 1691.2,995.9 1692.0,992.4 1692.8,999.1 1693.6,992.5 1694.4,996.4 1695.2,996.2 1696.0,997.0 1696.8,994.8 1697.6,998.6 1698.4,998.2 1699.2,998.5 1700.0,993.7 1700.8,999.0 1701.6,996.4 1702.4,994.0 1703.2,999.1 1704.0,999.0 1704.8,992.2 1705.6,995.1 1706.4,995.8 1707.2,995.5 1708.0,988.1 1708.8,994.6 1709.6,998.9 1710.4,995.3 1711.2,994.4 1712.0,996.4 1712.8,998.5 1713.6,987.0 1714.4,995.8 1715.2,994.3 1716.0,1000.1 1716.8,996.3 1717.6,997.2 1718.4,997.2 1719.2,998.9 1720.0,992.0 1720.8,999.2 1721.6,997.4 1722.4,1000.2 1723.2,992.0 1724.0,990.0 1724.8,1000.6 1725.6,996.7 1726.4,991.0 1727.2,994.2 1728.0,995.8 1728.8,998.9 1729.6,996.9 1730.4,999.1 1731.2,996.5 1732.0,994.5 1732.8,990.5 1733.6,998.3 1734.4,1000.1 1735.2,992.4 1736.0,995.8 1736.8,997.7 1737.6,987.2 1738.4,991.9 1739.2,999.5 1740.0,997.2 1740.8,995.1 1741.6,994.8 1742.4,997.5 1743.2,989.9 1744.0,993.0 1744.8,994.8 1745.6,998.7 1746.4,994.5 1747.2,983.9 1748.0,997.6 1748.8,987.9 1749.6,997.6 1750.4,995.5 1751.2,992.9 1752.0,986.7 1752.8,993.3 1753.6,999.9 1754.4,996.7 1755.2,999.4 1756.0,999.4 1756.8,991.8 1757.6,994.7 1758.4,999.0 1759.2,999.0 1760.0,994.2 1760.8,999.5 1761.6,983.5 1762.4,994.4 1763.2,1001.1 1764.0,990.0 1764.8,997.6 1765.6,995.6 1766.4,998.5 1767.2,989.6 1768.0,996.8 1768.8,1001.0 1769.6,1001.6 1770.4,1000.2 1771.2,997.4 1772.0,998.6 1772.8,992.5 1773.6,998.7 1774.4,984.6 1775.2,1000.6 1776.0,999.0 1776.8,1001.4 1777.6,999.0 1778.4,994.0 1779.2,994.7 1780.0,993.7 1780.7,1000.1 1781.4,988.4 1782.1,988.8 1782.9,991.4 1783.6,995.4 1784.3,990.5 1785.0,990.0 1785.8,994.7 1786.5,986.9 1787.2,992.5 1788.0,993.6 1788.8,991.3 1789.5,987.3 1790.2,985.7 1791.0,995.0 1791.8,987.2 1792.5,987.7 1793.2,980.5 1794.0,985.0 1794.8,984.3 1795.5,979.6 1796.2,972.6 1797.0,977.0 1797.8,969.4 1798.5,968.5 1799.2,964.7 1800.0,960.0 1800.8,955.7 1801.5,957.3 1802.2,959.2 1803.0,948.6 1803.8,947.0 1804.5,945.6 1805.2,949.5 1806.0,945.0 1806.8,942.8 1807.5,944.8 1808.2,947.1 1809.0,938.6 1809.8,947.0 1810.5,941.3 1811.2,940.0 1812.0,940.0 1812.7,966.4 1813.3,983.6 1814.0,1003.0 1814.8,986.8 1815.6,979.6 1816.4,965.5 1817.2,957.5 1818.0,945.0 1818.8,944.0 1819.6,945.2 1820.4,950.5 1821.2,941.9 1822.0,949.5 1822.8,948.4 1823.6,951.0 1824.4,942.3 1825.2,948.0 1826.0,952.0 1826.8,955.2 1827.6,967.0 1828.4,961.4 1829.2,966.5 1830.0,975.0 1830.8,973.2 1831.5,973.9 1832.2,969.5 1833.0,970.8 1833.8,963.6 1834.5,974.2 1835.2,965.9 1836.0,966.0 1836.8,968.0 1837.5,978.3 1838.2,968.8 1839.0,968.0 1839.8,970.5 1840.5,981.3 1841.2,976.4 1842.0,975.9 1842.8,980.1 1843.5,981.7 1844.2,986.9 1845.0,985.0 1845.8,986.8 1846.5,984.8 1847.3,984.4 1848.1,979.1 1848.8,976.7 1849.6,981.8 1850.4,981.5 1851.2,979.4 1851.9,979.1 1852.7,979.5 1853.5,972.6 1854.2,974.6 1855.0,975.0 1855.8,971.6 1856.5,967.7 1857.2,975.6 1858.0,972.5 1858.8,974.3 1859.5,974.7 1860.2,968.9 1861.0,976.9 1861.8,972.3 1862.5,974.4 1863.2,976.4 1864.0,970.0 1864.8,969.0 1865.5,969.1 1866.2,972.5 1867.0,976.4 1867.8,977.1 1868.5,966.9 1869.2,979.4 1870.0,975.0 1870.8,976.8 1871.5,983.5 1872.2,980.5 1873.0,985.4 1873.8,993.2 1874.5,989.0 1875.2,1001.5 1876.0,1002.0 1876.8,998.9 1877.5,1000.5 1878.2,998.8 1879.0,995.1 1879.8,1000.0 1880.5,1001.8 1881.2,995.1 1882.0,992.0 1882.8,988.0 1883.5,993.8 1884.3,993.7 1885.0,997.1 1885.8,995.7 1886.5,994.0 1887.2,996.5 1887.9,991.7 1888.6,989.7 1889.3,986.2 1890.0,985.0 1890.7,982.0 1891.5,981.7 1892.2,980.6 1892.9,979.4 1893.7,977.4 1894.4,975.5 1895.1,972.4 1895.8,970.2 1896.6,966.7 1897.3,963.1 1898.0,962.0 1898.6,947.8 1899.3,937.2 1899.9,924.8 1900.6,910.5 1901.2,898.0 1901.8,888.2 1902.5,879.7 1903.1,869.0 1903.8,863.8 1904.4,850.0 1905.2,839.5 1906.0,827.8 1906.8,815.1 1907.6,807.7 1908.4,798.3 1909.2,786.0 1909.8,779.5 1910.5,775.2 1911.1,765.9 1911.8,760.2 1912.4,754.0 1913.2,749.7 1914.0,744.8 1914.8,739.6 1915.6,738.0 1916.3,733.3 1917.0,728.6 1917.7,729.7 1918.3,725.0 1919.0,721.9 1919.7,718.0 1920.4,715.7 1921.2,710.8 1922.0,701.5 1922.8,699.1 1923.6,690.0 1924.2,685.3 1924.9,676.1 1925.5,670.5 1926.2,665.4 1926.8,658.0 1927.4,655.5 1928.1,647.8 1928.7,643.8 1929.4,644.2 1930.0,635.7 1930.8,628.8 1931.6,620.5 1932.3,613.8 1933.1,603.1 1933.9,594.0 1934.5,581.3 1935.2,567.2 1935.8,559.4 1936.4,546.0 1937.1,528.2 1937.7,515.1 1938.3,494.8 1939.0,482.0 1939.8,465.7 1940.5,451.0 1941.2,433.5 1942.0,420.0 1942.7,408.1 1943.3,396.7 1944.0,387.0 1944.7,358.2 1945.3,327.0 1946.0,300.0 1946.7,272.9 1947.3,248.9 1948.0,220.0 1948.7,203.2 1949.3,185.0 1950.0,163.0 1950.8,154.4 1951.5,144.5 1952.2,156.6 1953.0,170.0 1953.5,235.5 1954.0,300.0 1954.5,351.1 1955.0,400.0 1955.8,423.7 1956.5,448.8 1957.2,468.7 1958.0,493.0 1958.8,503.8 1959.6,512.9 1960.3,525.8 1961.1,539.7 1961.9,548.9 1962.7,560.0 1963.4,565.2 1964.2,568.7 1964.9,573.5 1965.6,574.7 1966.3,580.9 1967.1,585.1 1967.8,589.9 1968.5,594.2 1969.3,595.2 1970.0,600.0 1970.8,599.2 1971.6,602.0 1972.4,606.6 1973.2,604.4 1974.0,605.3 1974.8,606.9 1975.6,608.4 1976.4,613.2 1977.2,612.3 1978.0,615.0 1978.7,617.6 1979.4,624.1 1980.1,627.4 1980.8,630.9 1981.6,631.9 1982.3,634.0 1983.0,640.9 1983.7,644.0 1984.4,656.8 1985.2,663.4 1985.9,673.6 1986.6,684.0 1987.3,678.5 1988.0,684.0 1988.8,679.6 1989.5,675.7 1990.2,677.0 1991.0,674.8 1991.7,675.4 1992.4,673.0 1993.1,647.4 1993.8,615.0 1994.5,585.0 1995.3,557.6 1996.0,551.9 1996.8,545.2 1997.5,538.8 1998.2,534.0 1998.9,547.9 1999.6,562.7 2000.3,574.1 2001.0,586.5 2001.8,600.2 2002.5,616.1 2003.2,630.0 2004.0,644.0 2004.7,666.9 2005.4,686.4 2006.1,709.1 2006.8,730.5 2007.5,742.7 2008.2,749.7 2008.9,760.8 2009.6,768.8 2010.3,778.5 2011.0,788.0 2011.7,796.4 2012.5,811.4 2013.2,818.8 2013.9,828.4 2014.7,838.0 2015.4,845.8 2016.1,849.6 2016.9,855.4 2017.6,861.7 2018.3,864.7 2019.0,871.4 2019.8,879.5 2020.5,880.2 2021.2,889.0 2021.9,894.8 2022.6,903.3 2023.3,910.6 2024.0,918.0 2024.8,921.5 2025.5,923.9 2026.2,930.2 2027.0,928.6 2027.8,936.6 2028.5,937.1 2029.2,941.9 2030.0,946.7 2030.9,961.0 2031.8,954.3 2032.6,950.3 2033.2,927.6 2034.0,975.7 2035.3,957.1 2036.5,963.6 2037.2,992.9 2038.3,989.9 2039.4,940.2 2040.4,967.1 2041.0,978.4 2041.6,962.7 2042.1,961.2 2043.3,917.1 2044.0,988.2 2045.1,960.5 2045.9,981.5 2046.5,961.9 2047.3,991.5 2048.1,914.0 2048.7,964.2 2049.8,954.0 2050.5,915.1 2051.0,918.6 2052.0,961.3 2052.8,946.4 2053.4,935.0 2054.6,954.7 2055.7,939.0 2056.5,949.7 2057.3,982.8 2058.0,945.2 2058.9,931.3 2059.6,962.5 2060.4,911.3 2061.3,975.9 2062.4,951.1 2063.0,999.5 2063.9,985.9 2064.5,908.6 2065.8,981.2 2066.3,973.4 2067.0,981.8 2067.9,976.6 2069.0,894.2 2069.8,906.5 2070.7,894.3 2071.7,886.5 2072.8,894.7 2074.0,976.1 2074.8,894.8 2075.8,911.3 2076.4,979.2 2077.3,944.3 2078.4,913.7 2079.6,909.5 2080.5,919.8 2081.3,914.6 2081.9,920.6 2082.5,923.8 2083.5,882.9 2084.5,935.9 2085.5,892.9 2086.4,887.3 2087.3,886.3 2088.4,900.5 2089.4,938.7 2090.6,947.0 2091.2,928.1 2092.2,907.3 2093.4,928.3 2094.5,856.7 2095.3,944.8 2096.2,935.8 2096.8,939.5 2097.7,926.0 2098.4,925.0 2099.6,879.8 2100.8,877.3 2101.4,928.1 2102.4,882.6 2103.6,955.3 2104.3,959.9 2105.6,881.7 2106.3,956.0 2107.3,967.5 2108.2,966.6 2109.2,967.2 2110.3,929.5 2111.1,960.9 2112.1,907.1 2113.0,927.2 2113.7,975.4 2114.3,973.4 2115.3,910.1 2116.2,941.9 2116.8,867.1 2117.4,973.0 2118.3,977.1 2118.9,979.3 2119.5,979.6 2120.1,883.6 2121.3,947.1 2122.4,947.6 2123.2,912.7 2124.0,867.5 2124.8,912.0 2125.9,948.1 2126.5,850.0 2127.2,913.3 2128.3,860.8 2129.4,899.1 2130.4,860.8 2131.0,933.7 2131.8,900.7 2132.7,908.4 2133.2,920.6 2134.0,889.0 2134.6,828.1 2135.5,843.3 2136.5,851.5 2137.7,939.3 2138.9,915.1 2139.7,932.6 2140.3,896.9 2141.2,873.4 2142.2,890.1 2143.3,890.4 2144.0,833.1 2144.8,826.4 2146.1,828.9 2146.8,858.1 2147.8,861.5 2148.4,905.1 2149.3,887.0 2150.2,881.0 2151.2,938.4 2152.2,875.7 2153.0,887.0 2153.9,840.3 2154.5,795.9 2155.3,913.4 2156.5,912.3 2157.4,939.8 2158.3,889.3 2159.3,905.8 2160.0,786.1 2160.6,938.7 2161.5,869.0 2162.7,821.0 2163.5,916.9 2164.2,795.1 2165.1,845.4 2165.8,939.1 2166.4,941.8 2167.1,907.4 2168.1,862.2 2169.1,927.3 2170.3,933.5 2171.0,856.2 2171.5,904.5 2172.2,919.8 2172.7,914.0 2173.7,913.6 2174.8,937.9 2175.4,916.0 2176.0,860.2 2177.2,939.7 2177.8,905.0 2179.0,836.8 2179.8,942.3 2180.5,915.5 2181.4,835.9 2182.1,862.3 2182.6,845.2 2183.4,902.8 2184.3,875.5 2185.3,931.0 2186.0,950.2"/>
<polyline stroke="#f00" points="66.3,1328.0 67.1,1339.8 67.8,1349.8 68.6,1361.9 69.3,1372.8 70.1,1383.5 70.8,1387.5 71.6,1387.6 72.3,1388.9 73.0,1390.6 73.7,1391.4 74.5,1393.3 75.2,1396.0 76.0,1396.6 76.7,1397.3 77.5,1399.2 78.2,1400.1 79.0,1401.9 79.7,1403.4 80.5,1403.2 81.2,1403.9 82.0,1403.4 82.7,1406.0 83.5,1407.0 84.3,1407.8 85.0,1407.1 85.8,1408.1 86.6,1408.4 87.4,1410.5 88.1,1410.7 88.9,1411.9 89.7,1410.3 90.5,1414.3 91.2,1411.8 92.0,1412.2 92.8,1413.7 93.6,1413.3 94.3,1412.1 95.1,1413.6 95.9,1411.0 96.6,1410.2 97.4,1411.1 98.2,1410.7 99.0,1408.2 99.7,1408.0 100.5,1407.5 101.3,1407.1 102.0,1408.2 102.8,1406.0 103.6,1407.8 104.4,1408.2 105.1,1409.0 105.9,1408.4 106.7,1409.8 107.5,1409.5 108.2,1409.5 109.0,1412.3 109.8,1409.8 110.6,1411.9 111.3,1412.0 112.1,1411.6 112.9,1413.7 113.7,1412.4 114.4,1411.8 115.2,1411.1 115.9,1408.9 116.7,1409.3 117.4,1407.9 118.2,1407.4 118.9,1403.9 119.7,1404.2 120.4,1403.6 121.2,1402.8 122.0,1403.7 122.7,1402.3 123.5,1402.3 124.3,1401.6 125.1,1401.3 125.8,1401.4 126.6,1402.9 127.4,1400.8 128.2,1399.4 128.9,1401.7 129.7,1400.8 130.5,1401.0 131.3,1401.7 132.1,1402.0 132.8,1401.4 133.6,1401.6 134.4,1401.7 135.2,1402.4 136.0,1402.0 136.8,1403.1 137.5,1404.4 138.3,1402.8 139.1,1403.1 139.9,1403.3 140.7,1404.7 141.4,1405.0 142.2,1405.9 143.0,1404.9 143.8,1406.2 144.6,1406.4 145.3,1407.3 146.1,1406.4 146.9,1408.8 147.7,1409.1 148.4,1411.5 149.2,1411.5 150.0,1410.2 150.8,1411.2 151.5,1413.1 152.3,1411.2 153.1,1413.7 153.9,1414.6 154.6,1417.5 155.4,1419.6 156.1,1420.9 156.9,1423.5 157.7,1424.0 158.4,1426.1 159.2,1427.6 159.9,1428.6 160.7,1431.3 161.5,1431.8 162.3,1431.7 163.0,1432.8 163.8,1430.8 164.6,1433.7 165.4,1433.6 166.2,1434.0 166.9,1435.1 167.7,1435.1 168.5,1436.8 169.3,1437.6 170.1,1437.7 170.9,1438.3 171.6,1438.2 172.4,1438.4 173.2,1438.8 174.0,1437.5 174.8,1438.2 175.6,1439.4 176.3,1438.9 177.1,1437.6 177.9,1438.0 178.7,1438.7 179.5,1437.4 180.3,1438.9 181.1,1436.6 181.9,1437.8 182.7,1437.6 183.4,1436.9 184.2,1436.9 185.0,1436.9 185.8,1436.3 186.6,1434.3 187.4,1436.7 188.2,1437.3 189.0,1436.7 189.7,1437.3 190.5,1435.2 191.3,1436.2 192.1,1436.6 192.9,1436.1 193.7,1437.4 194.5,1436.7 195.2,1435.8 196.0,1437.0 196.8,1437.0 197.6,1435.9 198.4,1436.3 199.2,1435.5 200.0,1433.9 200.7,1432.6 201.5,1429.8 202.3,1430.7 203.1,1428.8 203.8,1426.8 204.6,1425.8 205.4,1424.4 206.2,1422.5 206.9,1420.9 207.7,1420.1 208.5,1418.7 209.3,1417.6 210.0,1417.1 210.8,1415.9 211.6,1416.1 212.3,1416.7 213.1,1415.4 213.9,1414.7 214.7,1413.7 215.4,1413.1 216.2,1411.5 217.0,1413.8 217.7,1411.0 218.5,1411.1 219.3,1407.2 220.1,1406.4 220.9,1403.8 221.7,1400.6 222.4,1397.2 223.2,1394.8 224.0,1394.9 224.8,1391.0 225.4,1380.8 226.1,1370.3 226.7,1362.5 227.3,1350.8 228.1,1346.2 228.8,1341.8 229.6,1339.0 230.3,1334.8 231.1,1330.4 231.9,1335.9 232.6,1337.2 233.4,1342.9 234.1,1345.2 234.9,1350.8 235.6,1360.3 236.4,1368.3 237.1,1377.5 237.9,1386.3 238.6,1396.0 239.4,1401.8 240.2,1407.5 241.0,1411.0 241.8,1415.9 242.5,1420.7 243.3,1426.7 244.1,1430.3 244.9,1436.3 245.7,1438.6 246.4,1436.1 247.2,1437.8 247.9,1436.4 248.7,1435.1 249.4,1434.9 250.2,1435.9 250.9,1435.6 251.7,1436.1 252.4,1435.3 253.2,1438.4 253.9,1438.2 254.7,1434.7 255.4,1436.7 256.2,1436.3 257.0,1437.5 257.8,1436.2 258.6,1436.5 259.4,1437.8 260.2,1437.4 261.0,1436.0 261.8,1438.3 262.6,1436.9 263.4,1439.1 264.1,1436.7 264.9,1435.7 265.7,1438.0 266.5,1439.1 267.3,1438.6 268.1,1438.4 268.9,1437.5 269.7,1439.3 270.5,1437.0 271.3,1438.8 272.1,1438.9 272.9,1436.4 273.7,1436.4 274.4,1435.1 275.2,1434.8 276.0,1436.4 276.8,1433.3 277.6,1433.9 278.4,1432.4 279.2,1433.4 280.0,1430.6 280.8,1431.3 281.5,1431.4 282.3,1432.1 283.1,1428.3 283.9,1428.8 284.7,1427.4 285.5,1427.5 286.2,1428.3 287.0,1425.5 287.8,1426.6 288.6,1424.7 289.3,1423.7 290.1,1422.6 290.9,1423.6 291.7,1423.8 292.4,1422.2 293.2,1419.8 294.0,1421.2 294.8,1421.4 295.5,1423.6 296.3,1424.3 297.1,1424.5 297.8,1426.4 298.6,1424.6 299.4,1425.4 300.2,1429.5 300.9,1428.7 301.7,1428.7 302.5,1429.2 303.2,1428.2 304.0,1431.3 304.8,1431.0 305.5,1427.4 306.3,1426.5 307.1,1427.3 307.8,1427.8 308.6,1425.1 309.4,1424.8 310.2,1423.1 310.9,1422.9 311.7,1420.0 312.5,1422.5 313.2,1418.7 314.0,1418.7 314.8,1419.1 315.6,1416.8 316.3,1420.3 317.1,1419.0 317.9,1420.5 318.7,1418.0 319.4,1419.6 320.2,1418.5 321.0,1418.6 321.8,1419.8 322.5,1417.8 323.3,1419.3 324.1,1418.7 324.9,1419.3 325.7,1417.9 326.4,1416.1 327.2,1414.3 328.0,1412.0 328.8,1413.0 329.5,1409.9 330.3,1410.5 331.1,1407.9 331.9,1407.1 332.6,1405.9 333.4,1405.3 334.2,1403.6 335.0,1401.9 335.7,1401.2 336.5,1399.3 337.2,1399.0 338.0,1397.5 338.8,1396.4 339.5,1394.0 340.3,1393.8 341.0,1392.3 341.8,1391.0 342.6,1390.6 343.3,1389.2 344.1,1387.4 344.8,1388.0 345.6,1385.8 346.3,1385.8 347.1,1382.8 347.8,1384.2 348.6,1383.5 349.3,1382.0 350.1,1382.0 350.9,1384.3 351.6,1384.3 352.4,1386.8 353.2,1387.0 354.0,1386.1 354.7,1388.0 355.5,1387.4 356.3,1389.6 357.1,1391.3 357.8,1392.4 358.6,1392.5 359.4,1393.5 360.1,1394.7 360.9,1396.6 361.6,1397.4 362.4,1399.8 363.1,1402.0 363.9,1402.7 364.6,1404.8 365.4,1404.8 366.1,1406.6 366.9,1408.6 367.7,1409.8 368.5,1412.4 369.2,1412.4 370.0,1414.0 370.8,1413.5 371.6,1415.5 372.3,1413.8 373.1,1416.8 373.9,1415.4 374.7,1419.4 375.4,1419.7 376.2,1421.3 377.0,1421.2 377.8,1421.6 378.6,1420.7 379.4,1420.5 380.2,1421.4 380.9,1422.6 381.7,1421.8 382.5,1420.7 383.3,1420.7 384.1,1420.6 384.9,1421.0 385.7,1421.1 386.5,1420.8 387.3,1421.2 388.1,1419.8 388.8,1422.6 389.6,1421.4 390.4,1422.6 391.2,1421.5 392.0,1421.2 392.8,1421.2 393.5,1421.7 394.3,1422.1 395.1,1421.5 395.8,1422.0 396.6,1424.3 397.4,1423.6 398.2,1422.5 398.9,1423.6 399.7,1422.6 400.5,1424.9 401.2,1422.9 402.0,1424.9 402.8,1424.3 403.5,1424.5 404.3,1424.0 405.1,1424.7 405.9,1424.4 406.6,1424.6 407.4,1426.0 408.2,1428.1 408.9,1425.7 409.7,1426.2 410.5,1427.3 411.3,1426.5 412.1,1426.0 412.9,1428.0 413.7,1427.5 414.5,1428.1 415.3,1427.3 416.1,1427.4 416.9,1426.7 417.6,1427.3 418.4,1429.3 419.2,1425.8 420.0,1428.4 420.8,1429.5 421.6,1429.0 422.4,1429.2 423.2,1428.3 424.0,1429.7 424.8,1428.8 425.6,1430.3 426.4,1429.7 427.2,1431.7 428.0,1430.2 428.8,1428.9 429.6,1431.5 430.4,1431.9 431.2,1431.7 432.0,1432.5 432.8,1432.9 433.6,1432.2 434.3,1435.4 435.1,1434.7 435.9,1437.5 436.7,1435.6 437.5,1436.5 438.3,1435.2 439.1,1437.9 439.9,1436.5 440.7,1438.4 441.5,1439.2 442.3,1438.8 443.1,1439.1 443.9,1437.3 444.7,1436.9 445.5,1437.9 446.3,1437.9 447.1,1437.8 447.9,1436.0 448.7,1435.6 449.5,1436.9 450.2,1434.3 451.0,1435.2 451.8,1433.8 452.6,1432.4 453.4,1432.3 454.2,1433.3 455.0,1432.7 455.8,1432.6 456.6,1431.4 457.4,1431.3 458.2,1430.9 458.9,1431.6 459.7,1431.2 460.5,1429.9 461.2,1430.9 462.0,1432.9 462.8,1430.6 463.5,1431.8 464.3,1431.2 465.1,1432.0 465.8,1430.5 466.6,1430.2 467.3,1431.7 468.1,1430.7 468.9,1431.3 469.6,1431.0 470.4,1432.2 471.2,1431.5 471.9,1431.4 472.7,1430.4 473.5,1429.9 474.2,1430.6 475.0,1431.3 475.8,1430.5 476.6,1428.8 477.4,1427.1 478.1,1424.6 478.9,1422.5 479.7,1422.9 480.5,1420.4 481.3,1419.1 482.1,1416.2 482.9,1414.9 483.7,1414.5 484.5,1413.0 485.2,1409.8 486.0,1409.4 486.8,1406.5 487.6,1406.0 488.4,1406.2 489.2,1404.7 490.0,1405.2 490.8,1403.6 491.5,1400.7 492.3,1400.6 493.1,1399.0 493.9,1398.6 494.7,1398.3 495.5,1396.6 496.3,1395.7 497.1,1393.5 497.8,1394.3 498.6,1392.9 499.4,1392.5 500.2,1391.0 500.9,1388.6 501.7,1384.3 502.4,1381.5 503.1,1377.0 503.9,1375.0 504.6,1370.7 505.3,1366.8 506.1,1363.8 506.8,1359.3 507.5,1356.7 508.3,1353.5 509.0,1350.5 509.8,1351.9 510.6,1353.2 511.4,1354.1 512.2,1355.9 513.0,1355.6 513.8,1359.0 514.6,1360.8 515.4,1362.4 516.2,1364.1 517.0,1364.3 517.8,1365.9 518.6,1367.0 519.4,1367.8 520.1,1368.9 520.9,1370.6 521.7,1372.9 522.5,1371.3 523.2,1373.6 524.0,1375.4 524.8,1375.4 525.6,1377.9 526.3,1377.4 527.1,1379.5 527.9,1381.0 528.6,1378.2 529.3,1378.6 530.0,1377.0 530.8,1375.3 531.5,1375.6 532.2,1373.7 533.0,1372.1 533.8,1371.6 534.5,1371.1 535.2,1370.0 536.0,1368.7 536.8,1367.7 537.5,1367.0 538.2,1364.1 539.0,1362.0 539.7,1357.8 540.4,1355.8 541.1,1351.4 541.9,1350.5 542.6,1346.8 543.4,1348.9 544.1,1350.0 544.9,1351.8 545.6,1352.3 546.4,1355.7 547.1,1357.1 547.9,1357.8 548.6,1360.5 549.4,1363.1 550.1,1364.4 550.9,1351.9 551.6,1339.5 552.4,1326.1 553.1,1314.8 553.9,1301.5 554.6,1294.6 555.4,1288.5 556.1,1282.8 556.9,1274.0 557.6,1276.8 558.4,1282.7 559.1,1287.7 559.9,1291.7 560.6,1297.8 561.4,1301.5 562.0,1320.0 562.7,1340.7 563.4,1358.8 564.0,1377.0 564.7,1381.9 565.5,1386.0 566.2,1391.3 567.0,1395.5 567.7,1399.6 568.5,1401.8 569.3,1401.8 570.1,1403.3 570.9,1403.7 571.6,1404.5 572.4,1403.8 573.2,1406.1 574.0,1407.0 574.8,1408.3 575.6,1407.8 576.4,1408.5 577.2,1410.4 578.0,1411.8 578.8,1410.9 579.6,1413.6 580.4,1415.1 581.2,1415.0 582.0,1416.3 582.8,1417.0 583.6,1417.9 584.4,1417.4 585.2,1419.0 585.9,1419.3 586.7,1418.3 587.5,1420.4 588.3,1421.1 589.1,1419.9 589.9,1422.1 590.7,1421.6 591.5,1421.1 592.2,1421.9 593.0,1422.5 593.8,1424.2 594.6,1423.8 595.4,1424.7 596.2,1424.4 596.9,1423.6 597.7,1424.7 598.4,1423.6 599.2,1424.1 600.0,1425.2 600.7,1425.3 601.5,1424.2 602.2,1424.7 603.0,1424.7 603.8,1426.4 604.5,1427.2 605.2,1429.6 606.0,1430.9 606.8,1430.9 607.5,1431.2 608.2,1433.4 609.0,1436.0 609.8,1437.0 610.5,1437.3 611.3,1438.4 612.1,1438.3 612.9,1436.8 613.7,1437.5 614.5,1438.3 615.3,1437.5 616.1,1438.1 616.9,1436.4 617.7,1436.2 618.4,1439.1 619.2,1438.0 620.0,1437.9 620.8,1438.6 621.6,1439.3 622.4,1439.6 623.2,1435.2 624.0,1437.7 624.8,1438.2 625.6,1437.3 626.4,1435.4 627.1,1435.3 627.9,1436.6 628.7,1438.2 629.4,1437.2 630.2,1438.1 631.0,1436.2 631.8,1436.7 632.5,1437.0 633.3,1435.8 634.1,1435.2 634.8,1435.1 635.6,1434.8 636.4,1431.1 637.2,1432.4 637.9,1429.0 638.7,1428.6 639.5,1428.6 640.3,1427.0 641.0,1423.4 641.8,1424.3 642.6,1423.2 643.4,1421.3 644.1,1420.4 644.9,1418.9 645.7,1417.0 646.5,1413.7 647.3,1413.4 648.0,1411.6 648.8,1409.0 649.6,1408.3 650.4,1405.9 651.1,1404.9 651.9,1402.4 652.7,1402.4 653.5,1401.8 654.2,1397.5 655.0,1396.4 655.8,1394.6 656.5,1393.9 657.3,1393.5 658.0,1392.2 658.8,1389.5 659.5,1391.1 660.3,1389.9 661.0,1388.3 661.8,1388.3 662.5,1387.3 663.3,1387.0 664.1,1387.2 664.9,1386.7 665.6,1386.7 666.4,1387.1 667.2,1387.2 668.0,1387.0 668.7,1388.0 669.5,1387.2 670.3,1386.3 671.1,1388.5 671.8,1387.1 672.6,1388.4 673.4,1387.0 674.2,1383.3 674.9,1382.0 675.7,1380.3 676.4,1377.1 677.2,1373.3 678.0,1369.9 678.7,1367.1 679.5,1364.7 680.2,1361.3 681.0,1359.4 681.7,1353.3 682.4,1347.7 683.1,1342.3 683.9,1338.0 684.6,1330.8 685.3,1327.1 686.0,1321.6 686.8,1321.6 687.5,1319.5 688.3,1318.9 689.1,1319.1 689.9,1318.4 690.7,1318.7 691.4,1315.4 692.2,1316.6 692.9,1308.3 693.7,1301.3 694.4,1291.9 695.1,1285.1 695.8,1277.3 696.6,1266.5 697.3,1258.8 698.1,1263.9 698.8,1266.8 699.6,1270.1 700.4,1273.6 701.2,1277.5 702.0,1280.6 702.7,1285.1 703.5,1289.0 704.2,1299.5 705.0,1309.5 705.7,1317.7 706.4,1328.2 707.1,1337.8 707.9,1345.0 708.6,1356.8 709.4,1359.4 710.1,1359.7 710.9,1361.8 711.6,1365.6 712.4,1368.4 713.1,1367.9 713.9,1370.1 714.6,1372.1 715.4,1374.5 716.1,1377.0 716.9,1378.6 717.7,1380.1 718.4,1381.3 719.2,1386.3 720.0,1386.1 720.8,1387.8 721.5,1391.3 722.3,1392.0 723.1,1395.3 723.9,1396.9 724.6,1399.0 725.4,1399.7 726.2,1402.0 727.0,1402.6 727.7,1400.6 728.5,1400.7 729.3,1402.0 730.0,1401.7 730.8,1403.2 731.6,1401.7 732.4,1400.4 733.1,1402.0 733.9,1401.7 734.7,1402.2 735.4,1400.9 736.2,1402.0 737.0,1401.1 737.8,1401.7 738.6,1402.2 739.4,1401.8 740.1,1401.9 740.9,1399.8 741.7,1400.7 742.5,1401.0 743.3,1401.5 744.1,1400.7 744.9,1400.1 745.6,1400.1 746.4,1400.0 747.2,1398.6 748.0,1399.8 748.8,1399.6 749.6,1401.7 750.4,1402.9 751.1,1401.9 751.9,1404.9 752.7,1404.9 753.5,1408.6 754.2,1409.5 755.0,1410.9 755.8,1411.0 756.6,1411.2 757.3,1413.4 758.1,1415.3 758.9,1417.0 759.7,1415.6 760.5,1416.1 761.2,1418.6 762.0,1415.8 762.8,1417.5 763.6,1415.3 764.3,1417.2 765.1,1417.8 765.9,1417.4 766.7,1418.1 767.4,1418.6 768.2,1415.8 769.0,1417.0 769.8,1415.5 770.6,1414.0 771.3,1412.2 772.1,1411.6 772.9,1408.7 773.7,1407.8 774.5,1406.0 775.2,1403.4 776.0,1402.0 776.8,1399.1 777.6,1398.4 778.4,1396.6 779.2,1394.5 779.9,1392.5 780.7,1392.1 781.5,1389.5 782.2,1388.4 783.0,1389.6 783.8,1387.7 784.5,1386.2 785.2,1384.0 786.0,1384.4 786.8,1382.7 787.5,1381.6 788.2,1379.6 789.0,1379.5 789.7,1379.4 790.4,1378.3 791.1,1377.0 791.9,1376.1 792.6,1375.7 793.3,1374.1 794.0,1374.5 794.6,1355.8 795.3,1339.3 796.0,1319.2 796.6,1301.5 797.4,1283.5 798.1,1260.1 798.9,1242.2 799.6,1222.1 800.4,1201.0 801.1,1184.0 801.9,1165.3 802.6,1145.2 803.4,1129.6 804.1,1110.4 804.8,1097.6 805.4,1082.7 806.2,1096.4 806.9,1107.8 807.7,1124.5 808.4,1136.2 809.2,1150.6 809.8,1166.1 810.5,1183.2 811.1,1199.0 811.7,1213.5 812.4,1222.9 813.1,1231.0 813.8,1242.0 814.6,1250.5 815.3,1258.3 816.0,1266.6 816.7,1276.4 817.5,1282.2 818.2,1286.3 819.0,1294.6 819.7,1299.0 820.5,1303.8 821.3,1310.0 822.0,1313.6 822.8,1320.6 823.5,1325.6 824.3,1331.7 825.0,1332.3 825.8,1335.2 826.5,1338.1 827.3,1338.5 828.0,1341.6 828.8,1342.5 829.5,1346.0 830.3,1346.2 831.0,1350.5 831.8,1351.8 832.6,1352.4 833.3,1352.6 834.1,1353.4 834.8,1352.0 835.6,1351.9 836.4,1352.4 837.1,1351.4 837.9,1350.1 838.6,1350.7 839.4,1351.8 840.1,1357.9 840.8,1366.3 841.5,1372.7 842.3,1380.1 843.0,1388.2 843.7,1395.0 844.4,1402.0 845.2,1406.8 845.9,1408.0 846.7,1410.2 847.4,1415.3 848.2,1416.8 849.0,1420.1 849.7,1424.1 850.5,1426.4 851.2,1429.9 852.0,1432.3 852.8,1432.1 853.5,1432.8 854.3,1434.0 855.1,1433.4 855.8,1433.9 856.6,1434.6 857.4,1436.5 858.2,1436.7 858.9,1436.0 859.7,1436.2 860.5,1435.9 861.2,1438.2 862.0,1437.3 862.8,1437.4 863.6,1437.6 864.4,1435.1 865.1,1436.8 865.9,1435.9 866.7,1436.2 867.5,1436.1 868.3,1434.9 869.1,1434.2 869.9,1434.9 870.7,1432.8 871.5,1434.9 872.2,1433.6 873.0,1432.0 873.8,1433.9 874.6,1432.3 875.4,1432.7 876.1,1432.6 876.9,1431.5 877.7,1430.5 878.4,1429.4 879.2,1427.9 880.0,1429.0 880.8,1428.3 881.5,1426.8 882.3,1427.1 883.1,1425.2 883.8,1426.3 884.6,1424.7 885.4,1424.8 886.1,1424.8 886.9,1423.8 887.7,1425.2 888.4,1424.4 889.2,1423.6 890.0,1424.4 890.7,1423.7 891.5,1424.8 892.3,1422.3 893.0,1422.6 893.8,1425.3 894.5,1422.9 895.3,1423.7 896.1,1422.8 896.8,1423.2 897.6,1425.2 898.4,1421.1 899.1,1423.2 899.9,1422.7 900.7,1422.5 901.4,1421.7 902.2,1422.2 903.0,1421.0 903.8,1422.7 904.6,1421.6 905.4,1419.6 906.2,1420.3 907.0,1418.7 907.8,1421.8 908.6,1419.5 909.4,1417.1 910.1,1419.2 910.9,1418.5 911.7,1417.8 912.5,1417.3 913.3,1416.2 914.1,1416.2 914.9,1414.1 915.7,1416.7 916.5,1417.0 917.3,1414.7 918.1,1414.7 918.9,1414.4 919.7,1412.1 920.4,1412.5 921.2,1411.1 922.0,1410.7 922.8,1411.9 923.6,1412.2 924.4,1410.4 925.2,1412.2 926.0,1410.2 926.8,1406.9 927.5,1408.1 928.3,1409.2 929.1,1407.7 929.9,1407.0 930.7,1406.3 931.5,1402.1 932.2,1403.0 933.0,1399.1 933.8,1398.7 934.6,1398.6 935.3,1395.0 936.1,1393.0 936.9,1392.2 937.7,1389.0 938.4,1387.2 939.2,1387.2 940.0,1384.5 940.8,1384.4 941.5,1385.8 942.3,1389.6 943.1,1388.1 943.8,1390.8 944.6,1392.5 945.4,1392.6 946.2,1392.9 946.9,1395.7 947.7,1395.3 948.5,1399.2 949.2,1400.5 950.0,1399.6 950.8,1399.5 951.5,1401.6 952.3,1401.2 953.0,1402.9 953.8,1403.1 954.6,1403.2 955.3,1405.3 956.1,1404.1 956.8,1406.6 957.6,1407.0 958.4,1408.3 959.1,1409.1 959.9,1411.9 960.7,1412.5 961.4,1413.5 962.2,1415.1 963.0,1416.4 963.8,1418.8 964.5,1419.0 965.3,1418.3 966.1,1419.6 966.8,1422.4 967.6,1424.7 968.4,1424.1 969.2,1425.4 970.0,1424.9 970.8,1425.9 971.5,1428.3 972.3,1426.4 973.1,1428.8 973.9,1428.4 974.7,1430.2 975.5,1430.3 976.3,1430.0 977.1,1431.4 977.8,1431.1 978.6,1430.4 979.4,1432.3 980.2,1432.3 981.0,1433.1 981.8,1432.9 982.6,1433.5 983.4,1433.2 984.1,1434.2 984.9,1434.0 985.7,1433.2 986.5,1434.6 987.3,1436.6 988.1,1436.2 988.9,1437.2 989.6,1436.1 990.4,1436.1 991.2,1435.8 992.0,1437.2 992.8,1437.3 993.6,1437.8 994.3,1437.0 995.1,1436.5 995.9,1434.8 996.6,1434.8 997.4,1433.5 998.2,1434.4 998.9,1433.7 999.7,1432.1 1000.5,1432.2 1001.2,1429.5 1002.0,1431.0 1002.8,1430.9 1003.5,1428.8 1004.3,1428.5 1005.0,1428.6 1005.8,1427.9 1006.5,1425.9 1007.3,1427.2 1008.1,1426.9 1008.8,1425.6 1009.6,1424.7 1010.3,1422.9 1011.1,1423.3 1011.8,1420.5 1012.6,1420.5 1013.3,1418.1 1014.1,1417.7 1014.8,1416.3 1015.6,1413.8 1016.3,1414.7 1017.0,1410.2 1017.8,1408.2 1018.5,1408.2 1019.3,1408.5 1020.0,1405.5 1020.8,1404.4 1021.5,1402.2 1022.2,1400.1 1023.0,1398.7 1023.8,1396.6 1024.5,1394.5 1025.2,1392.5 1026.0,1389.3 1026.8,1389.8 1027.5,1386.7 1028.2,1385.5 1029.0,1383.3 1029.8,1384.7 1030.6,1386.0 1031.4,1385.2 1032.2,1387.6 1033.0,1388.5 1033.7,1388.5 1034.5,1389.4 1035.3,1390.5 1036.1,1390.3 1036.9,1391.7 1037.7,1392.9 1038.5,1396.4 1039.2,1403.0 1040.0,1405.8 1040.7,1409.8 1041.5,1415.5 1042.3,1418.3 1043.1,1421.6 1043.9,1422.4 1044.7,1423.6 1045.4,1429.2 1046.2,1433.0 1047.0,1428.5 1047.8,1435.6 1048.6,1435.6 1049.4,1432.7 1050.2,1436.5 1051.0,1437.6 1051.8,1438.4 1052.6,1436.1 1053.4,1432.8 1054.2,1429.4 1055.0,1432.6 1055.8,1436.0 1056.6,1432.6 1057.4,1437.9 1058.2,1439.2 1059.0,1436.6 1059.8,1436.3 1060.6,1438.8 1061.4,1428.3 1062.2,1439.1 1063.0,1431.9 1063.8,1436.8 1064.6,1435.4 1065.4,1435.1 1066.2,1430.6 1067.0,1433.1 1067.8,1433.1 1068.6,1435.7 1069.4,1432.9 1070.2,1434.9 1071.0,1439.6 1071.8,1438.1 1072.6,1438.1 1073.4,1433.3 1074.2,1439.5 1075.0,1429.0 1075.8,1435.6 1076.6,1436.1 1077.4,1440.4 1078.2,1433.8 1079.0,1440.6 1079.8,1437.6 1080.6,1440.4 1081.4,1435.4 1082.2,1434.1 1083.0,1435.5 1083.8,1437.4 1084.6,1433.0 1085.4,1424.6 1086.2,1439.0 1087.0,1435.4 1087.8,1441.0 1088.6,1429.3 1089.4,1440.9 1090.2,1431.5 1091.0,1433.7 1091.8,1440.5 1092.6,1440.4 1093.4,1432.1 1094.2,1439.1 1095.0,1440.5 1095.8,1437.3 1096.6,1440.7 1097.4,1432.1 1098.2,1440.1 1098.9,1436.8 1099.7,1439.5 1100.5,1437.1 1101.3,1437.2 1102.1,1426.9 1102.9,1436.6 1103.7,1427.5 1104.5,1432.1 1105.3,1439.6 1106.1,1434.0 1106.9,1435.0 1107.7,1433.1 1108.5,1433.1 1109.3,1432.6 1110.1,1428.3 1110.9,1431.0 1111.7,1432.6 1112.5,1429.7 1113.3,1439.6 1114.1,1426.2 1114.9,1438.1 1115.7,1435.8 1116.5,1438.6 1117.3,1434.9 1118.1,1432.0 1118.9,1439.3 1119.7,1438.5 1120.5,1436.5 1121.3,1439.6 1122.1,1436.7 1122.9,1427.9 1123.7,1439.0 1124.5,1435.5 1125.3,1437.9 1126.1,1437.5 1126.9,1433.8 1127.7,1436.4 1128.5,1433.2 1129.3,1436.7 1130.1,1435.5 1130.9,1439.2 1131.7,1435.9 1132.5,1439.4 1133.3,1436.0 1134.1,1431.0 1134.9,1438.9 1135.7,1431.5 1136.5,1434.5 1137.3,1439.7 1138.1,1440.2 1138.9,1427.1 1139.7,1434.1 1140.5,1436.4 1141.3,1439.3 1142.1,1438.1 1142.9,1437.3 1143.7,1433.4 1144.5,1436.9 1145.3,1427.0 1146.1,1435.9 1146.9,1432.9 1147.7,1438.1 1148.5,1431.9 1149.3,1440.0 1150.1,1434.6 1150.9,1431.8 1151.7,1440.5 1152.5,1439.2 1153.3,1441.2 1154.1,1440.0 1154.9,1430.9 1155.7,1434.8 1156.5,1430.6 1157.3,1429.5 1158.1,1426.0 1158.9,1430.3 1159.7,1434.4 1160.5,1435.3 1161.3,1437.7 1162.1,1434.1 1162.9,1439.1 1163.7,1437.9 1164.5,1434.7 1165.3,1435.8 1166.1,1432.1 1166.9,1435.6 1167.7,1428.9 1168.5,1433.7 1169.3,1432.0 1170.1,1436.8 1170.9,1437.7 1171.7,1438.5 1172.5,1431.3 1173.3,1434.7 1174.1,1433.8 1174.9,1437.3 1175.7,1436.3 1176.5,1438.2 1177.3,1438.2 1178.1,1430.0 1178.9,1434.4 1179.7,1431.4 1180.5,1431.6 1181.3,1438.1 1182.1,1433.9 1182.9,1429.8 1183.7,1438.1 1184.5,1435.9 1185.3,1431.5 1186.1,1434.2 1186.9,1435.1 1187.7,1437.6 1188.5,1436.7 1189.3,1429.4 1190.1,1436.6 1190.9,1437.5 1191.7,1437.1 1192.5,1433.3 1193.3,1438.6 1194.1,1431.0 1194.9,1432.0 1195.7,1435.6 1196.5,1429.2 1197.3,1437.0 1198.1,1434.1 1198.9,1432.9 1199.6,1438.2 1200.4,1425.4 1201.2,1439.0 1202.0,1439.8 1202.8,1436.1 1203.6,1439.3 1204.4,1438.3 1205.2,1441.1 1206.0,1441.1 1206.8,1441.2 1207.6,1441.3 1208.4,1431.5 1209.2,1435.8 1210.0,1437.6 1210.8,1440.0 1211.6,1436.5 1212.4,1440.3 1213.2,1435.3 1214.0,1433.5 1214.8,1439.5 1215.6,1440.5 1216.4,1438.2 1217.2,1439.7 1218.0,1439.9 1218.8,1440.3 1219.6,1434.8 1220.4,1440.8 1221.2,1434.3 1222.0,1427.5 1222.8,1438.9 1223.6,1437.1 1224.4,1437.7 1225.2,1435.7 1226.0,1438.8 1226.8,1430.2 1227.6,1431.8 1228.4,1432.5 1229.2,1432.8 1230.0,1436.6 1230.8,1425.1 1231.6,1439.2 1232.4,1438.0 1233.2,1436.2 1234.0,1430.8 1234.8,1433.0 1235.6,1428.0 1236.4,1433.7 1237.2,1427.3 1238.0,1431.6 1238.8,1433.8 1239.6,1430.4 1240.4,1434.9 1241.2,1434.5 1242.0,1431.7 1242.8,1438.3 1243.6,1434.4 1244.4,1430.3 1245.2,1429.6 1246.0,1424.3 1246.8,1438.3 1247.6,1435.7 1248.4,1437.1 1249.2,1425.4 1250.0,1436.0 1250.8,1433.1 1251.6,1436.7 1252.4,1429.3 1253.2,1437.2 1254.0,1432.5 1254.8,1436.5 1255.6,1431.3 1256.4,1436.6 1257.2,1435.9 1258.0,1439.6 1258.8,1436.1 1259.6,1440.5 1260.4,1439.6 1261.2,1431.2 1262.0,1438.4 1262.8,1439.4 1263.6,1436.7 1264.4,1436.4 1265.2,1426.3 1266.0,1430.9 1266.8,1440.0 1267.6,1436.0 1268.4,1441.2 1269.2,1437.6 1270.0,1427.2 1270.8,1438.2 1271.6,1440.7 1272.4,1437.3 1273.2,1433.7 1274.0,1427.7 1274.8,1435.8 1275.6,1438.7 1276.4,1439.7 1277.2,1439.5 1278.0,1435.4 1278.8,1441.0 1279.6,1437.0 1280.4,1441.4 1281.2,1436.2 1281.9,1438.4 1282.7,1438.8 1283.5,1440.0 1284.3,1436.6 1285.1,1434.8 1285.9,1438.1 1286.7,1441.8 1287.5,1442.0 1288.3,1440.3 1289.1,1438.3 1289.9,1440.5 1290.7,1430.6 1291.5,1433.4 1292.3,1433.7 1293.1,1431.2 1293.9,1440.1 1294.7,1439.6 1295.5,1432.1 1296.3,1439.9 1297.1,1440.2 1297.9,1436.0 1298.7,1437.8 1299.5,1436.4 1300.3,1433.6 1301.1,1433.2 1301.9,1436.0 1302.7,1432.0 1303.5,1437.5 1304.3,1435.7 1305.1,1437.4 1305.9,1438.5 1306.7,1435.4 1307.5,1432.8 1308.3,1436.3 1309.1,1438.9 1309.9,1431.6 1310.7,1437.8 1311.5,1436.1 1312.3,1435.2 1313.1,1432.9 1313.9,1436.3 1314.7,1434.0 1315.5,1440.1 1316.3,1437.0 1317.1,1437.0 1317.9,1432.5 1318.7,1431.6 1319.5,1431.5 1320.3,1439.3 1321.1,1432.2 1321.9,1435.1 1322.7,1439.2 1323.5,1439.7 1324.3,1432.7 1325.1,1440.0 1325.9,1433.8 1326.7,1431.8 1327.5,1436.2 1328.3,1438.0 1329.1,1438.0 1329.9,1440.1 1330.7,1438.8 1331.5,1435.0 1332.3,1435.2 1333.1,1430.5 1333.9,1439.8 1334.7,1429.8 1335.5,1431.9 1336.3,1431.9 1337.1,1437.7 1337.9,1432.7 1338.7,1428.2 1339.5,1433.7 1340.3,1432.8 1341.1,1439.1 1341.9,1438.0 1342.7,1439.0 1343.5,1439.2 1344.2,1433.3 1345.0,1435.8 1345.8,1437.6 1346.6,1440.7 1347.4,1434.6 1348.2,1437.4 1349.0,1429.4 1349.8,1434.5 1350.6,1431.4 1351.4,1438.0 1352.2,1439.8 1353.0,1440.8 1353.8,1438.1 1354.6,1434.4 1355.4,1430.9 1356.2,1425.5 1357.0,1435.5 1357.8,1432.9 1358.6,1441.1 1359.4,1441.3 1360.2,1435.7 1361.0,1433.9 1361.8,1437.5 1362.6,1440.0 1363.4,1439.1 1364.2,1436.3 1365.0,1429.9 1365.8,1434.2 1366.6,1436.5 1367.4,1439.6 1368.2,1436.5 1369.0,1433.9 1369.8,1439.1 1370.6,1439.7 1371.4,1439.7 1372.2,1430.6 1373.0,1435.4 1373.8,1439.4 1374.6,1425.0 1375.4,1439.2 1376.2,1439.4 1377.0,1435.5 1377.8,1436.3 1378.6,1435.9 1379.4,1431.7 1380.2,1436.2 1381.0,1424.4 1381.8,1428.2 1382.6,1428.2 1383.4,1438.9 1384.2,1433.0 1385.0,1431.3 1385.8,1429.2 1386.6,1428.6 1387.4,1436.0 1388.2,1428.1 1389.0,1424.4 1389.8,1432.9 1390.6,1434.5 1391.4,1436.7 1392.2,1430.3 1393.0,1420.5 1393.8,1433.4 1394.6,1437.3 1395.4,1434.9 1396.2,1421.3 1397.0,1433.5 1397.8,1433.7 1398.6,1429.0 1399.4,1432.3 1400.2,1434.7 1401.0,1435.1 1401.8,1429.4 1402.6,1428.9 1403.4,1434.8 1404.2,1437.3 1405.0,1430.3 1405.8,1422.4 1406.5,1428.4 1407.3,1433.5 1408.1,1428.5 1408.9,1438.1 1409.7,1431.0 1410.5,1432.1 1411.3,1432.0 1412.1,1434.8 1412.9,1433.4 1413.7,1428.1 1414.5,1438.2 1415.3,1436.5 1416.1,1430.9 1416.9,1430.6 1417.7,1437.2 1418.5,1436.7 1419.3,1437.6 1420.1,1429.0 1420.9,1438.2 1421.7,1430.6 1422.5,1433.7 1423.3,1432.6 1424.1,1434.6 1424.9,1435.9 1425.7,1433.9 1426.5,1439.2 1427.3,1433.8 1428.1,1437.0 1428.9,1435.0 1429.7,1430.9 1430.5,1436.5 1431.3,1438.8 1432.1,1439.0 1432.9,1433.6 1433.7,1435.6 1434.5,1437.6 1435.3,1432.0 1436.1,1434.7 1436.9,1436.9 1437.7,1436.8 1438.5,1432.4 1439.3,1429.2 1440.1,1435.6 1440.9,1435.3 1441.7,1439.5 1442.5,1435.5 1443.3,1439.7 1444.1,1435.5 1444.9,1438.8 1445.7,1433.5 1446.5,1432.6 1447.3,1433.5 1448.1,1425.0 1448.9,1438.8 1449.7,1433.7 1450.5,1438.3 1451.3,1439.2 1452.1,1438.7 1452.9,1436.0 1453.7,1435.8 1454.5,1426.3 1455.3,1434.1 1456.1,1436.6 1456.9,1432.2 1457.7,1426.6 1458.5,1438.7 1459.3,1432.1 1460.1,1430.4 1460.9,1428.1 1461.7,1434.4 1462.5,1438.7 1463.3,1436.2 1464.1,1427.5 1464.9,1433.2 1465.7,1438.1 1466.5,1436.9 1467.3,1428.2 1468.1,1437.2 1468.8,1435.1 1469.6,1438.1 1470.4,1426.5 1471.2,1430.4 1472.0,1432.6 1472.8,1428.0 1473.6,1434.8 1474.4,1438.4 1475.2,1430.5 1476.0,1432.4 1476.8,1436.9 1477.6,1427.1 1478.4,1433.2 1479.2,1432.9 1480.0,1434.3 1480.8,1428.5 1481.6,1433.0 1482.4,1427.6 1483.2,1435.7 1484.0,1433.8 1484.8,1430.4 1485.6,1433.7 1486.4,1436.7 1487.2,1435.8 1488.0,1435.6 1488.8,1437.3 1489.6,1432.1 1490.4,1435.7 1491.2,1421.2 1492.0,1434.1 1492.8,1427.1 1493.6,1430.1 1494.4,1433.8 1495.2,1428.9 1496.0,1432.3 1496.8,1427.1 1497.6,1434.2 1498.4,1434.4 1499.2,1438.1 1500.0,1433.5 1500.8,1435.9 1501.6,1431.6 1502.4,1434.7 1503.2,1430.2 1504.0,1434.6 1504.8,1438.1 1505.6,1436.9 1506.4,1437.4 1507.2,1439.2 1508.0,1430.6 1508.8,1439.5 1509.6,1431.7 1510.4,1439.3 1511.2,1427.2 1512.0,1430.4 1512.8,1440.0 1513.6,1432.4 1514.4,1441.4 1515.2,1430.1 1516.0,1440.8 1516.8,1440.0 1517.6,1437.4 1518.4,1435.5 1519.2,1439.9 1520.0,1437.2 1520.8,1434.3 1521.6,1439.7 1522.4,1441.9 1523.2,1439.7 1524.0,1439.1 1524.8,1437.7 1525.6,1438.9 1526.4,1436.3 1527.2,1440.6 1528.0,1434.9 1528.8,1440.5 1529.6,1426.0 1530.4,1434.6 1531.2,1440.2 1532.0,1435.8 1532.8,1435.6 1533.6,1440.6 1534.4,1433.0 1535.2,1435.4 1536.0,1429.0 1536.8,1438.3 1537.6,1440.6 1538.4,1432.2 1539.2,1434.7 1540.0,1438.9 1540.8,1442.6 1541.6,1436.2 1542.4,1436.6 1543.2,1435.7 1544.0,1436.5 1544.8,1423.9 1545.6,1437.7 1546.4,1440.4 1547.2,1438.1 1548.0,1439.4 1548.8,1436.3 1549.6,1424.6 1550.4,1435.1 1551.2,1425.9 1552.0,1434.6 1552.8,1438.4 1553.6,1424.4 1554.4,1435.0 1555.2,1424.8 1556.0,1433.0 1556.8,1441.5 1557.6,1431.1 1558.4,1439.6 1559.2,1436.2 1560.0,1441.1 1560.8,1433.9 1561.6,1433.8 1562.4,1438.4 1563.2,1429.3 1564.0,1440.0 1564.8,1437.3 1565.6,1441.9 1566.4,1437.1 1567.2,1436.1 1568.0,1427.9 1568.8,1439.0 1569.6,1439.9 1570.4,1439.6 1571.2,1441.0 1572.0,1431.5 1572.8,1436.1 1573.6,1436.1 1574.4,1440.8 1575.2,1438.3 1576.0,1432.0 1576.8,1437.5 1577.6,1434.8 1578.4,1436.6 1579.2,1428.1 1580.0,1435.6 1580.8,1433.9 1581.6,1436.3 1582.4,1434.1 1583.2,1435.9 1584.0,1435.1 1584.8,1437.0 1585.6,1436.9 1586.4,1434.1 1587.2,1437.6 1588.0,1439.4 1588.8,1436.8 1589.6,1436.8 1590.4,1436.2 1591.2,1437.5 1592.0,1429.3 1592.8,1436.3 1593.6,1430.0 1594.4,1430.5 1595.2,1433.0 1596.0,1433.4 1596.8,1438.6 1597.6,1424.7 1598.4,1432.5 1599.2,1433.8 1600.0,1436.2 1600.8,1432.6 1601.6,1434.4 1602.4,1431.9 1603.2,1427.5 1604.0,1434.8 1604.8,1438.0 1605.6,1430.4 1606.4,1435.0 1607.2,1439.0 1608.0,1434.9 1608.8,1438.5 1609.6,1435.4 1610.4,1433.9 1611.2,1435.8 1612.0,1437.0 1612.8,1435.9 1613.6,1432.1 1614.4,1432.9 1615.2,1435.5 1616.0,1433.7 1616.8,1434.5 1617.6,1433.8 1618.4,1431.5 1619.2,1428.7 1620.0,1434.0 1620.8,1439.8 1621.6,1433.6 1622.4,1436.1 1623.2,1432.9 1624.0,1437.3 1624.8,1437.7 1625.6,1436.7 1626.4,1438.9 1627.2,1430.3 1628.0,1434.5 1628.8,1435.0 1629.6,1437.7 1630.4,1435.2 1631.2,1424.8 1632.0,1439.3 1632.8,1434.9 1633.6,1436.1 1634.4,1436.5 1635.2,1431.1 1636.0,1437.0 1636.8,1439.6 1637.6,1436.6 1638.4,1435.4 1639.2,1433.6 1640.0,1436.3 1640.8,1434.7 1641.6,1437.5 1642.4,1438.8 1643.2,1431.3 1644.0,1424.7 1644.8,1433.4 1645.6,1439.4 1646.4,1438.2 1647.2,1439.0 1648.0,1435.5 1648.8,1434.7 1649.6,1431.5 1650.4,1433.0 1651.2,1432.9 1652.0,1426.7 1652.8,1439.2 1653.6,1439.3 1654.4,1429.2 1655.2,1438.5 1656.0,1432.6 1656.8,1431.2 1657.6,1438.4 1658.4,1437.3 1659.2,1434.1 1660.0,1431.3 1660.8,1423.6 1661.6,1438.6 1662.4,1438.3 1663.2,1433.8 1664.0,1431.1 1664.8,1438.2 1665.6,1434.7 1666.4,1432.9 1667.2,1437.1 1668.0,1436.8 1668.8,1436.8 1669.6,1436.9 1670.4,1437.5 1671.2,1436.9 1672.0,1437.6 1672.8,1428.7 1673.6,1433.4 1674.4,1437.2 1675.2,1437.8 1676.0,1429.9 1676.8,1434.2 1677.6,1436.5 1678.4,1434.4 1679.2,1432.1 1680.0,1433.4 1680.8,1435.1 1681.6,1437.4 1682.4,1421.5 1683.2,1436.3 1684.0,1424.5 1684.8,1428.2 1685.6,1428.8 1686.4,1436.0 1687.2,1428.0 1688.0,1439.4 1688.8,1428.9 1689.6,1439.4 1690.4,1435.0 1691.2,1436.1 1692.0,1439.1 1692.8,1432.8 1693.6,1426.6 1694.4,1431.6 1695.2,1436.2 1696.0,1429.7 1696.8,1433.0 1697.6,1433.2 1698.4,1439.6 1699.2,1421.7 1700.0,1433.0 1700.8,1434.0 1701.6,1425.9 1702.4,1432.3 1703.2,1435.0 1703.9,1431.3 1704.7,1437.4 1705.5,1428.2 1706.3,1435.2 1707.1,1431.3 1707.9,1431.7 1708.7,1422.0 1709.5,1431.1 1710.3,1434.1 1711.1,1422.1 1711.8,1425.9 1712.6,1429.2 1713.4,1423.2 1714.2,1426.0 1715.0,1425.0 1715.8,1409.8 1716.6,1429.9 1717.3,1421.7 1718.1,1430.4 1718.9,1424.5 1719.7,1411.3 1720.4,1421.5 1721.2,1421.4 1722.0,1421.4 1722.8,1414.6 1723.6,1422.9 1724.3,1420.9 1725.1,1420.9 1725.9,1412.9 1726.7,1412.0 1727.4,1417.6 1728.2,1420.6 1729.0,1418.0 1729.8,1410.1 1730.6,1401.2 1731.4,1393.3 1732.2,1382.1 1733.0,1375.0 1733.8,1373.9 1734.6,1374.4 1735.4,1370.2 1736.2,1372.0 1737.0,1370.0 1737.8,1369.7 1738.5,1371.3 1739.2,1370.4 1740.0,1372.0 1740.8,1405.6 1741.5,1438.0 1742.2,1405.7 1743.0,1372.0 1743.7,1372.1 1744.4,1374.2 1745.1,1371.8 1745.9,1374.1 1746.6,1372.3 1747.3,1374.6 1748.0,1374.0 1748.7,1375.7 1749.4,1375.0 1750.2,1378.2 1750.9,1377.5 1751.6,1377.1 1752.3,1379.0 1753.1,1381.1 1753.8,1381.1 1754.5,1382.0 1755.2,1384.1 1755.9,1385.8 1756.7,1386.5 1757.4,1387.4 1758.1,1388.3 1758.8,1389.8 1759.6,1392.0 1760.3,1391.1 1761.0,1393.0 1761.8,1393.1 1762.6,1396.3 1763.3,1391.5 1764.1,1399.1 1764.9,1395.9 1765.7,1398.8 1766.4,1393.6 1767.2,1396.3 1768.0,1398.0 1768.8,1407.1 1769.5,1390.9 1770.2,1407.6 1771.0,1408.9 1771.8,1401.3 1772.5,1385.6 1773.2,1392.7 1774.0,1402.0 1774.8,1409.5 1775.5,1419.3 1776.2,1404.3 1777.0,1420.0 1777.8,1424.4 1778.6,1425.5 1779.4,1415.7 1780.2,1426.1 1781.0,1421.9 1781.8,1416.0 1782.6,1413.7 1783.4,1422.1 1784.2,1416.9 1785.0,1417.0 1785.8,1412.9 1786.6,1420.5 1787.4,1424.0 1788.2,1422.0 1789.0,1425.4 1789.8,1428.0 1790.6,1422.8 1791.4,1417.3 1792.2,1423.0 1793.0,1421.0 1793.8,1421.9 1794.6,1421.6 1795.4,1428.2 1796.2,1418.5 1797.0,1426.9 1797.8,1426.9 1798.6,1418.4 1799.4,1421.4 1800.2,1426.9 1801.0,1419.1 1801.8,1416.0 1802.6,1421.5 1803.4,1426.2 1804.2,1425.3 1805.0,1430.0 1805.8,1425.1 1806.6,1407.9 1807.4,1424.7 1808.2,1413.1 1809.0,1428.2 1809.8,1425.5 1810.6,1430.3 1811.4,1417.6 1812.2,1426.8 1813.0,1427.9 1813.8,1426.1 1814.6,1429.5 1815.4,1419.3 1816.2,1426.2 1817.0,1431.2 1817.8,1421.8 1818.6,1429.0 1819.4,1428.0 1820.2,1425.1 1821.0,1420.9 1821.8,1422.5 1822.6,1422.6 1823.4,1428.8 1824.2,1432.0 1825.0,1425.0 1825.8,1425.5 1826.6,1429.3 1827.3,1421.9 1828.1,1422.2 1828.9,1424.6 1829.7,1419.2 1830.4,1414.6 1831.2,1413.5 1832.0,1418.0 1832.8,1422.3 1833.6,1418.1 1834.4,1421.6 1835.2,1413.0 1836.0,1430.7 1836.8,1417.8 1837.5,1408.6 1838.3,1416.6 1839.1,1410.7 1839.9,1415.6 1840.7,1429.0 1841.5,1410.3 1842.3,1421.2 1843.1,1436.3 1843.9,1398.9 1844.7,1397.9 1845.5,1432.2 1846.2,1428.2 1847.0,1417.5 1847.8,1418.3 1848.6,1401.3 1849.4,1425.5 1850.2,1433.8 1851.0,1410.5 1851.8,1401.5 1852.6,1405.5 1853.4,1434.8 1854.2,1438.4 1855.0,1427.3 1855.8,1426.4 1856.5,1410.0 1857.3,1413.7 1858.1,1428.3 1858.9,1403.7 1859.7,1430.4 1860.5,1412.3 1861.3,1427.5 1862.1,1433.7 1862.9,1411.9 1863.7,1400.4 1864.5,1420.1 1865.2,1401.7 1866.0,1413.8 1866.8,1423.2 1867.6,1412.8 1868.4,1402.6 1869.2,1413.5 1870.0,1412.2 1870.8,1403.0 1871.6,1417.1 1872.4,1427.5 1873.2,1427.1 1874.0,1417.2 1874.8,1429.6 1875.5,1402.9 1876.3,1431.5 1877.1,1408.9 1877.9,1420.8 1878.7,1435.0 1879.5,1426.1 1880.3,1404.6 1881.1,1433.0 1881.9,1408.8 1882.7,1430.6 1883.5,1410.7 1884.2,1418.0 1885.0,1402.5 1885.8,1417.9 1886.6,1415.9 1887.4,1429.2 1888.2,1419.4 1889.0,1418.0 1889.8,1409.9 1890.5,1409.4 1891.2,1403.1 1892.0,1400.0 1892.7,1389.5 1893.3,1378.4 1894.0,1367.6 1894.7,1355.8 1895.4,1352.5 1896.2,1348.6 1896.9,1343.6 1897.6,1341.2 1898.3,1334.1 1898.9,1327.5 1899.6,1319.0 1900.3,1302.9 1901.1,1290.5 1901.8,1274.3 1902.6,1259.5 1903.3,1245.4 1903.9,1208.0 1904.5,1171.8 1905.1,1160.3 1905.8,1147.3 1906.4,1135.2 1907.0,1122.7 1907.6,1097.2 1908.2,1073.6 1908.8,990.0 1909.5,977.1 1910.2,960.1 1911.0,947.8 1911.7,932.0 1912.4,923.7 1913.1,913.6 1913.8,902.1 1914.6,893.8 1915.3,883.5 1916.0,874.6 1916.7,869.0 1917.4,860.5 1918.2,853.5 1918.9,846.1 1919.6,838.9 1920.3,831.4 1921.0,830.7 1921.7,830.0 1922.4,826.8 1923.2,825.5 1923.9,823.2 1924.6,821.1 1925.3,817.7 1926.0,817.0 1926.8,805.9 1927.5,794.9 1928.2,785.3 1929.0,773.8 1929.7,768.7 1930.5,766.7 1931.2,765.8 1931.9,764.2 1932.6,760.9 1933.3,758.7 1934.1,756.9 1934.8,753.6 1935.5,729.2 1936.2,701.7 1936.9,681.8 1937.6,659.0 1938.3,637.9 1939.0,615.0 1939.8,557.3 1940.5,500.0 1941.2,479.3 1942.0,460.7 1942.7,440.0 1943.3,375.0 1944.0,306.7 1944.8,289.7 1945.6,269.5 1946.4,254.7 1947.2,237.8 1948.0,218.0 1948.8,211.4 1949.5,202.9 1950.2,194.9 1951.0,187.1 1951.8,182.1 1952.5,173.0 1953.2,183.9 1953.9,195.0 1954.6,206.0 1955.3,217.1 1956.0,228.0 1956.8,249.6 1957.6,269.8 1958.4,291.5 1959.2,311.7 1960.0,333.0 1960.7,347.3 1961.5,361.2 1962.2,377.9 1963.0,393.9 1963.7,408.1 1964.5,423.4 1965.2,436.8 1966.0,451.3 1966.7,466.7 1967.5,479.5 1968.2,492.5 1969.0,507.7 1969.7,521.5 1970.5,532.9 1971.2,547.3 1972.0,560.0 1972.7,573.8 1973.3,590.5 1974.0,606.0 1974.7,620.0 1975.5,701.7 1976.3,713.4 1977.0,727.8 1977.8,738.5 1978.6,751.5 1979.4,765.2 1980.1,774.3 1980.9,788.0 1981.6,810.3 1982.3,831.2 1983.0,854.6 1983.7,874.6 1984.4,890.1 1985.2,905.3 1985.9,921.3 1986.6,936.0 1987.3,926.3 1988.0,912.3 1988.8,900.4 1989.5,888.9 1990.2,879.0 1991.0,864.6 1991.7,853.6 1992.4,843.0 1993.1,842.0 1993.8,841.2 1994.6,841.5 1995.3,840.4 1996.0,838.6 1996.7,840.0 1997.4,852.9 1998.1,862.3 1998.8,871.7 1999.6,881.9 2000.3,892.3 2001.0,903.5 2001.7,925.9 2002.5,950.7 2003.2,976.2 2003.9,1000.0 2004.5,1009.6 2005.2,1019.9 2005.8,1027.7 2006.4,1036.8 2007.0,1067.0 2007.6,1098.2 2008.2,1117.6 2008.8,1135.7 2009.4,1152.2 2010.0,1171.8 2010.7,1176.1 2011.5,1182.6 2012.2,1185.8 2013.0,1191.6 2013.7,1196.3 2014.3,1207.7 2015.0,1222.0 2015.6,1235.3 2016.2,1245.4 2016.8,1268.0 2017.4,1294.5 2018.1,1295.3 2018.8,1298.8 2019.5,1300.1 2020.2,1301.5 2020.9,1302.0 2021.6,1303.3 2022.3,1306.7 2023.0,1310.2 2023.7,1315.4 2024.3,1319.3 2025.0,1322.0 2025.8,1327.7 2026.5,1326.9 2027.2,1332.1 2028.0,1335.0 2028.9,1344.5 2029.7,1363.4 2031.0,1339.2 2032.2,1396.7 2033.1,1379.8 2033.8,1357.3 2034.7,1421.9 2035.6,1352.6 2036.2,1360.4 2037.1,1419.7 2038.3,1385.3 2039.3,1384.5 2040.4,1429.6 2041.1,1365.1 2042.0,1426.1 2042.8,1406.9 2043.8,1368.6 2044.7,1373.3 2045.6,1407.5 2046.3,1367.4 2047.2,1429.5 2048.3,1408.1 2048.8,1435.1 2049.5,1403.7 2050.5,1365.3 2051.6,1421.1 2052.5,1426.7 2053.4,1366.5 2054.2,1389.8 2054.9,1371.2 2055.9,1370.2 2057.0,1411.8 2058.1,1382.4 2058.9,1386.0 2059.5,1372.2 2060.7,1393.4 2061.9,1375.4 2062.7,1427.2 2063.7,1372.6 2064.6,1364.1 2065.6,1359.1 2066.7,1385.1 2068.0,1371.5 2068.8,1428.5 2069.8,1333.8 2070.5,1413.0 2071.5,1334.5 2072.4,1335.1 2073.6,1384.2 2074.5,1355.6 2075.6,1361.5 2076.3,1389.9 2077.5,1360.3 2078.3,1324.9 2079.3,1401.2 2080.4,1344.9 2080.9,1333.2 2082.1,1384.8 2082.7,1408.4 2084.0,1427.7 2084.9,1422.4 2085.9,1427.0 2086.6,1356.6 2087.2,1434.2 2087.7,1333.1 2088.7,1420.5 2090.0,1326.9 2091.1,1410.3 2092.2,1327.8 2093.4,1405.7 2094.5,1337.1 2095.7,1371.9 2096.9,1397.9 2097.9,1391.3 2099.0,1381.4 2100.1,1407.6 2101.1,1408.1 2102.1,1358.2 2102.8,1312.7 2103.8,1404.4 2105.0,1369.4 2105.8,1296.9 2106.4,1324.9 2107.6,1426.3 2108.3,1331.5 2108.9,1363.5 2109.5,1314.7 2110.5,1426.7 2111.7,1327.3 2112.9,1379.2 2114.0,1379.7 2114.5,1312.9 2115.5,1414.1 2116.5,1412.2 2117.7,1318.6 2118.7,1327.6 2119.8,1353.2 2120.8,1332.9 2122.0,1388.2 2123.2,1310.4 2123.9,1340.6 2125.1,1396.5 2126.3,1391.1 2127.3,1347.4 2128.0,1361.6 2129.0,1401.9 2130.0,1338.0 2131.0,1403.2 2132.1,1325.4 2133.3,1309.3 2134.4,1315.4 2135.2,1388.2 2136.0,1352.9 2136.8,1418.6 2137.7,1412.7 2138.8,1348.5 2140.0,1343.5 2140.7,1325.8 2141.2,1413.9 2142.3,1392.1 2143.0,1338.7 2143.9,1377.9 2144.9,1348.3 2146.0,1318.6 2146.9,1329.6 2147.8,1315.9 2149.0,1375.1 2149.8,1390.6 2150.8,1316.8 2151.7,1302.7 2152.6,1379.7 2153.4,1276.4 2154.5,1377.9 2155.3,1324.0 2156.2,1293.7 2157.0,1284.8 2158.2,1389.2 2159.1,1358.6 2160.2,1386.6 2161.0,1382.7 2161.7,1346.8 2162.9,1311.2 2163.8,1283.4 2164.4,1329.4 2165.2,1381.1 2166.0,1297.2 2166.7,1383.6 2167.6,1419.2 2168.4,1420.7 2169.5,1364.3 2170.2,1346.4 2171.5,1381.9 2172.3,1269.2 2173.3,1232.9 2174.1,1381.8 2174.9,1298.0 2175.7,1230.4 2176.7,1268.6 2177.5,1245.9 2178.3,1303.1 2178.8,1261.9 2179.8,1268.3 2180.6,1315.4 2181.8,1305.8 2182.4,1239.5 2183.0,1394.4 2183.8,1303.3 2184.4,1258.4 2185.0,1335.4 2185.9,1308.8"/>
<polyline stroke="#00f" points="66.3,1585.0 67.1,1593.9 67.8,1605.8 68.6,1614.8 69.3,1627.6 70.1,1635.5 70.7,1644.9 71.3,1649.0 72.0,1658.1 72.6,1665.6 73.3,1669.6 74.1,1670.6 74.8,1673.3 75.5,1678.6 76.2,1680.8 77.0,1680.3 77.7,1685.8 78.5,1685.7 79.2,1687.0 80.0,1688.5 80.7,1688.4 81.5,1693.1 82.2,1690.0 83.0,1690.8 83.7,1694.1 84.5,1690.7 85.2,1695.8 86.0,1694.9 86.7,1698.9 87.5,1696.4 88.2,1698.2 89.0,1702.7 89.8,1702.6 90.5,1702.9 91.3,1704.3 92.0,1703.6 92.8,1705.9 93.5,1707.4 94.3,1707.5 95.0,1713.4 95.8,1710.9 96.5,1710.3 97.3,1711.8 98.0,1713.0 98.8,1711.4 99.5,1713.5 100.3,1716.0 101.1,1718.5 101.9,1713.0 102.6,1714.3 103.4,1717.0 104.2,1717.7 105.0,1712.9 105.7,1717.2 106.5,1713.7 107.3,1717.1 108.1,1714.9 108.8,1713.3 109.6,1714.9 110.4,1713.4 111.2,1715.1 111.9,1713.5 112.7,1719.5 113.4,1715.8 114.2,1719.2 114.9,1717.1 115.7,1715.4 116.4,1717.4 117.2,1720.0 117.9,1721.0 118.7,1721.0 119.5,1721.8 120.2,1717.6 121.0,1715.8 121.8,1713.0 122.6,1713.9 123.3,1713.4 124.1,1707.7 124.9,1712.9 125.7,1711.4 126.4,1712.3 127.2,1705.4 128.0,1705.9 128.8,1706.1 129.5,1706.3 130.3,1704.1 131.1,1705.1 131.8,1705.1 132.6,1707.9 133.4,1708.0 134.2,1709.8 134.9,1706.9 135.7,1705.3 136.5,1708.8 137.2,1708.8 138.0,1708.4 138.8,1709.3 139.5,1710.1 140.3,1706.6 141.0,1708.8 141.8,1705.3 142.6,1707.1 143.3,1707.9 144.1,1706.2 144.8,1706.5 145.6,1705.9 146.3,1704.6 147.1,1707.2 147.8,1709.9 148.6,1708.7 149.3,1710.6 150.1,1717.8 150.8,1715.1 151.6,1714.4 152.3,1715.3 153.1,1718.5 153.8,1724.1 154.5,1720.2 155.2,1727.4 156.0,1732.3 156.7,1733.4 157.4,1738.6 158.1,1741.0 158.9,1739.4 159.6,1741.8 160.4,1742.4 161.1,1742.9 161.9,1743.6 162.7,1743.9 163.4,1746.4 164.2,1744.4 164.9,1744.3 165.7,1746.1 166.4,1746.4 167.2,1747.3 167.9,1746.2 168.7,1746.5 169.4,1748.5 170.2,1752.4 170.9,1751.7 171.7,1753.2 172.4,1759.9 173.2,1756.2 174.0,1757.5 174.7,1754.6 175.5,1753.3 176.2,1756.4 177.0,1752.0 177.8,1755.1 178.5,1753.4 179.3,1754.4 180.0,1750.1 180.8,1751.1 181.6,1753.3 182.3,1749.1 183.1,1752.9 183.9,1755.9 184.6,1756.0 185.4,1752.2 186.2,1757.5 187.0,1757.9 187.7,1757.7 188.5,1757.3 189.3,1758.9 190.0,1759.1 190.8,1761.2 191.6,1762.5 192.4,1761.4 193.2,1762.3 193.9,1761.4 194.7,1757.7 195.5,1760.0 196.3,1763.5 197.1,1757.4 197.9,1759.7 198.6,1757.6 199.4,1757.2 200.2,1759.0 201.0,1758.7 201.7,1756.1 202.4,1751.9 203.1,1747.4 203.9,1744.3 204.6,1735.7 205.3,1736.2 206.0,1731.0 206.7,1728.6 207.4,1724.7 208.1,1722.2 208.9,1717.8 209.6,1718.6 210.3,1712.2 211.0,1711.0 211.8,1707.9 212.5,1710.3 213.3,1709.1 214.1,1709.8 214.8,1712.5 215.6,1709.3 216.4,1709.6 217.2,1713.2 217.9,1706.4 218.7,1709.4 219.5,1710.7 220.2,1711.1 221.0,1708.4 221.7,1709.0 222.4,1700.5 223.1,1699.6 223.9,1695.1 224.6,1691.2 225.3,1687.5 226.0,1685.8 226.7,1666.5 227.3,1653.3 227.9,1637.6 228.6,1620.0 229.2,1606.1 229.8,1597.6 230.5,1583.5 231.1,1573.0 231.9,1577.7 232.6,1581.9 233.4,1595.2 234.1,1601.3 234.9,1607.0 235.6,1622.0 236.4,1637.6 237.1,1651.7 237.9,1670.7 238.6,1685.8 239.2,1700.5 239.8,1716.7 240.5,1731.1 241.1,1746.1 241.9,1744.3 242.7,1745.0 243.4,1749.5 244.2,1746.7 245.0,1751.2 245.8,1753.3 246.5,1750.4 247.3,1754.9 248.1,1754.7 248.9,1756.6 249.6,1755.4 250.4,1757.5 251.2,1758.7 252.0,1759.8 252.7,1762.9 253.5,1761.4 254.2,1761.5 255.0,1758.7 255.8,1762.2 256.5,1760.8 257.3,1762.5 258.0,1763.6 258.8,1763.7 259.6,1765.5 260.3,1765.1 261.1,1764.5 261.9,1764.3 262.6,1767.0 263.4,1763.2 264.2,1765.0 265.0,1767.6 265.7,1765.0 266.5,1767.0 267.3,1767.4 268.0,1769.5 268.8,1766.2 269.6,1768.2 270.4,1763.1 271.1,1766.1 271.9,1766.6 272.7,1767.6 273.5,1766.8 274.2,1769.5 275.0,1768.1 275.8,1764.0 276.6,1764.9 277.3,1762.3 278.1,1769.2 278.9,1766.2 279.6,1763.8 280.4,1761.8 281.1,1757.1 281.9,1757.2 282.6,1756.7 283.4,1753.2 284.1,1751.2 284.9,1748.8 285.6,1751.5 286.4,1746.1 287.1,1743.0 287.8,1739.6 288.5,1739.5 289.3,1738.0 290.0,1736.6 290.7,1734.5 291.4,1733.5 292.2,1731.7 292.9,1733.8 293.7,1735.4 294.4,1732.6 295.2,1739.3 296.0,1739.3 296.7,1733.4 297.5,1736.6 298.2,1739.6 299.0,1738.6 299.7,1742.5 300.4,1745.1 301.1,1740.2 301.9,1743.4 302.6,1746.2 303.3,1750.0 304.0,1751.1 304.8,1749.6 305.5,1753.1 306.3,1753.9 307.0,1755.1 307.8,1752.2 308.6,1755.7 309.3,1756.2 310.1,1756.1 310.8,1760.0 311.6,1758.7 312.4,1757.1 313.1,1759.5 313.9,1755.1 314.6,1758.5 315.4,1757.7 316.1,1752.4 316.9,1753.8 317.6,1753.0 318.4,1749.8 319.1,1751.1 319.9,1750.8 320.6,1749.0 321.4,1744.8 322.1,1745.0 322.9,1745.0 323.7,1741.6 324.4,1739.0 325.2,1741.8 325.9,1735.5 326.7,1736.0 327.4,1733.6 328.1,1732.2 328.8,1728.7 329.6,1721.1 330.3,1721.0 331.0,1718.5 331.7,1716.0 332.4,1714.2 333.2,1714.5 333.9,1713.1 334.7,1711.1 335.4,1710.1 336.2,1710.2 336.9,1709.4 337.7,1702.4 338.4,1708.6 339.2,1703.4 340.0,1700.8 340.7,1701.8 341.5,1695.8 342.2,1696.4 343.0,1693.5 343.8,1696.3 344.5,1694.4 345.3,1691.3 346.0,1689.5 346.8,1688.3 347.6,1688.4 348.4,1685.5 349.2,1685.5 350.0,1684.7 350.7,1687.1 351.5,1685.1 352.3,1682.2 353.1,1684.0 353.8,1685.9 354.5,1687.6 355.2,1690.5 356.0,1688.3 356.7,1691.4 357.4,1695.7 358.1,1693.3 358.7,1700.2 359.4,1707.7 360.0,1716.9 360.6,1723.5 361.4,1723.0 362.2,1724.4 363.0,1723.9 363.8,1723.9 364.6,1727.3 365.4,1725.5 366.2,1724.8 367.0,1726.6 367.8,1727.3 368.6,1728.6 369.4,1728.5 370.2,1731.9 370.9,1735.2 371.7,1731.5 372.4,1735.0 373.2,1733.9 374.0,1739.4 374.7,1741.7 375.5,1741.3 376.2,1742.6 377.0,1746.1 377.8,1744.8 378.5,1744.5 379.3,1748.9 380.1,1751.8 380.8,1746.9 381.6,1752.5 382.4,1749.9 383.2,1748.1 383.9,1752.3 384.7,1753.2 385.5,1753.1 386.2,1752.5 387.0,1753.7 387.8,1756.8 388.5,1753.4 389.3,1755.3 390.1,1755.5 390.8,1752.9 391.6,1751.3 392.4,1751.8 393.2,1754.4 393.9,1755.9 394.7,1752.2 395.5,1754.4 396.2,1758.7 397.0,1756.2 397.8,1753.2 398.6,1757.7 399.3,1757.8 400.1,1759.0 400.9,1755.3 401.7,1759.0 402.4,1756.2 403.2,1761.5 404.0,1757.9 404.8,1760.6 405.5,1758.8 406.3,1760.9 407.1,1761.2 407.9,1758.5 408.7,1762.2 409.5,1763.1 410.2,1762.3 411.0,1765.5 411.8,1763.6 412.6,1764.6 413.4,1764.4 414.2,1767.3 415.0,1762.9 415.8,1764.0 416.6,1764.4 417.3,1766.2 418.1,1765.9 418.9,1767.2 419.7,1766.2 420.5,1766.2 421.3,1764.3 422.0,1764.8 422.8,1765.3 423.6,1759.9 424.4,1766.3 425.1,1762.3 425.9,1762.3 426.7,1763.1 427.5,1761.8 428.2,1759.2 429.0,1761.0 429.8,1761.2 430.6,1764.4 431.3,1764.5 432.1,1765.6 432.8,1763.1 433.6,1764.5 434.3,1767.6 435.1,1769.1 435.8,1767.2 436.6,1766.2 437.3,1768.8 438.1,1765.4 438.9,1771.7 439.6,1766.5 440.4,1770.3 441.2,1771.3 442.0,1774.6 442.7,1770.4 443.5,1770.1 444.3,1771.3 445.1,1771.6 445.8,1773.4 446.6,1772.3 447.4,1771.3 448.2,1769.5 449.0,1766.7 449.8,1770.9 450.5,1768.8 451.3,1772.3 452.1,1766.9 452.9,1769.4 453.7,1767.4 454.5,1766.8 455.3,1771.2 456.1,1768.1 456.9,1767.1 457.6,1768.5 458.4,1765.4 459.2,1765.8 460.0,1766.2 460.8,1764.5 461.6,1768.9 462.3,1765.4 463.1,1765.5 463.9,1765.9 464.7,1763.0 465.5,1762.6 466.2,1759.4 467.0,1762.9 467.8,1762.0 468.6,1760.3 469.4,1762.8 470.2,1756.8 470.9,1760.4 471.7,1756.6 472.5,1758.7 473.2,1753.3 474.0,1751.8 474.7,1751.4 475.4,1743.5 476.1,1740.6 476.9,1737.0 477.6,1736.0 478.4,1738.2 479.1,1734.0 479.9,1732.2 480.6,1733.8 481.4,1729.0 482.1,1723.1 482.9,1724.5 483.6,1721.8 484.4,1726.3 485.1,1721.0 485.9,1717.3 486.6,1719.6 487.4,1717.0 488.1,1716.2 488.9,1716.0 489.7,1714.7 490.4,1712.7 491.2,1710.7 491.9,1710.8 492.7,1711.0 493.4,1709.8 494.2,1710.8 494.9,1713.5 495.7,1713.7 496.4,1715.6 497.2,1715.0 497.9,1719.8 498.7,1715.6 499.4,1715.9 500.2,1718.5 500.9,1713.9 501.6,1704.2 502.3,1699.3 503.1,1694.4 503.8,1685.9 504.5,1679.0 505.2,1673.2 506.0,1671.3 506.7,1666.5 507.5,1661.3 508.2,1656.4 509.0,1655.0 509.8,1656.5 510.6,1656.4 511.4,1660.2 512.1,1662.0 512.9,1666.9 513.7,1670.0 514.5,1669.7 515.3,1673.2 516.0,1675.2 516.7,1676.8 517.4,1679.2 518.2,1683.8 518.9,1688.6 519.6,1691.3 520.3,1693.3 521.1,1694.6 521.8,1693.2 522.6,1689.4 523.3,1696.0 524.1,1697.0 524.9,1696.5 525.6,1696.7 526.4,1697.3 527.1,1700.2 527.9,1695.8 528.6,1693.4 529.3,1692.8 530.0,1687.0 530.8,1688.3 531.5,1687.8 532.2,1686.0 533.0,1685.4 533.8,1683.7 534.5,1686.6 535.2,1684.7 536.0,1682.8 536.8,1683.4 537.5,1684.6 538.3,1678.3 539.1,1679.4 539.9,1671.9 540.6,1668.4 541.4,1661.9 542.2,1658.1 543.0,1657.9 543.8,1651.9 544.6,1657.1 545.4,1663.6 546.2,1672.3 547.0,1678.4 547.7,1681.4 548.5,1686.7 549.3,1691.9 550.1,1697.1 550.9,1693.8 551.6,1695.4 552.4,1686.5 553.1,1685.9 553.9,1679.7 554.7,1678.2 555.4,1678.5 556.2,1675.9 556.9,1672.9 557.7,1669.5 558.4,1670.3 559.1,1671.0 559.8,1672.8 560.6,1674.5 561.3,1678.7 562.0,1680.8 562.7,1679.5 563.4,1705.5 564.0,1729.8 564.7,1731.3 565.5,1733.1 566.2,1737.9 567.0,1739.5 567.7,1742.4 568.5,1739.5 569.2,1746.0 570.0,1743.9 570.7,1743.8 571.5,1743.3 572.3,1743.8 573.0,1747.6 573.8,1744.6 574.5,1747.1 575.3,1747.4 576.0,1749.6 576.8,1752.9 577.5,1751.6 578.3,1751.4 579.0,1751.6 579.8,1755.1 580.5,1756.3 581.3,1754.7 582.0,1757.6 582.8,1757.5 583.6,1757.6 584.4,1755.1 585.2,1756.6 585.9,1760.3 586.7,1761.8 587.5,1760.6 588.3,1759.3 589.1,1758.7 589.9,1761.3 590.7,1761.2 591.5,1757.9 592.2,1762.5 593.0,1760.2 593.8,1763.1 594.6,1763.2 595.4,1762.5 596.2,1764.3 597.0,1765.3 597.7,1765.0 598.5,1762.1 599.3,1762.6 600.1,1766.8 600.8,1766.1 601.6,1762.7 602.4,1762.3 603.2,1768.1 603.9,1771.0 604.7,1768.8 605.5,1767.6 606.2,1767.7 607.0,1769.1 607.8,1764.4 608.5,1767.7 609.2,1772.0 610.0,1772.2 610.8,1767.1 611.5,1773.8 612.2,1773.1 613.0,1772.6 613.8,1773.3 614.5,1770.2 615.2,1769.6 616.0,1766.5 616.8,1768.2 617.5,1768.2 618.2,1763.8 619.0,1765.2 619.8,1762.5 620.5,1762.5 621.3,1765.0 622.1,1765.5 622.8,1759.8 623.6,1765.7 624.4,1767.3 625.2,1764.9 625.9,1766.1 626.7,1766.8 627.5,1765.6 628.3,1768.1 629.0,1771.8 629.8,1770.3 630.6,1770.0 631.4,1773.1 632.1,1772.4 632.9,1773.0 633.6,1771.3 634.4,1772.8 635.1,1775.3 635.9,1774.6 636.6,1772.7 637.4,1771.0 638.1,1772.6 638.9,1769.9 639.6,1771.0 640.4,1770.4 641.1,1765.1 641.9,1768.0 642.7,1767.2 643.4,1766.1 644.2,1763.5 644.9,1767.8 645.7,1762.5 646.4,1761.6 647.1,1754.9 647.8,1753.7 648.6,1754.0 649.3,1751.0 650.0,1747.7 650.7,1745.0 651.5,1742.2 652.2,1739.1 653.0,1735.8 653.7,1732.0 654.5,1732.2 655.3,1723.7 656.0,1724.2 656.8,1725.1 657.5,1718.6 658.3,1717.3 659.0,1713.0 659.8,1716.8 660.5,1713.1 661.3,1708.9 662.0,1706.0 662.8,1704.7 663.5,1702.4 664.3,1700.6 665.0,1697.7 665.8,1697.1 666.6,1698.5 667.3,1697.0 668.1,1695.2 668.8,1696.6 669.6,1699.6 670.4,1698.2 671.1,1696.0 671.9,1703.9 672.6,1702.5 673.4,1702.2 674.1,1700.5 674.8,1699.7 675.5,1700.9 676.3,1701.7 677.0,1697.3 677.7,1698.5 678.4,1697.1 679.1,1691.5 679.8,1689.0 680.5,1682.0 681.3,1676.4 682.0,1675.6 682.7,1671.0 683.4,1667.0 684.1,1664.6 684.9,1658.4 685.6,1658.6 686.3,1652.6 687.0,1651.7 687.8,1644.6 688.5,1641.8 689.2,1636.9 690.0,1626.5 690.7,1619.3 691.5,1613.3 692.2,1604.1 692.9,1593.1 693.7,1586.9 694.4,1584.8 695.1,1571.0 695.8,1565.3 696.6,1559.7 697.3,1551.3 698.0,1557.9 698.7,1558.1 699.4,1563.3 700.2,1564.9 700.9,1570.2 701.6,1576.8 702.3,1579.0 703.0,1592.0 703.8,1603.9 704.5,1617.4 705.3,1629.4 706.0,1641.8 706.7,1647.7 707.5,1652.5 708.2,1657.1 708.9,1665.9 709.6,1668.3 710.4,1678.0 711.1,1682.0 711.9,1687.4 712.6,1687.7 713.4,1690.7 714.1,1686.0 714.9,1689.9 715.6,1689.4 716.4,1691.1 717.1,1690.8 717.9,1693.2 718.6,1697.1 719.2,1704.9 719.9,1710.9 720.5,1718.2 721.1,1722.3 721.9,1724.3 722.7,1723.7 723.4,1720.7 724.2,1722.0 725.0,1723.6 725.8,1724.6 726.5,1721.6 727.3,1721.3 728.1,1721.4 728.9,1725.2 729.6,1723.3 730.4,1721.7 731.2,1722.3 732.0,1721.2 732.8,1723.7 733.6,1720.1 734.4,1723.1 735.1,1722.8 735.9,1723.1 736.7,1724.9 737.5,1725.6 738.3,1729.8 739.1,1725.6 739.9,1727.0 740.6,1724.6 741.4,1723.3 742.2,1728.8 743.0,1730.6 743.8,1727.3 744.5,1723.7 745.3,1723.7 746.0,1724.1 746.8,1720.5 747.5,1714.1 748.3,1718.6 749.0,1714.7 749.8,1714.6 750.5,1709.7 751.3,1709.7 752.1,1714.6 752.8,1718.2 753.6,1718.2 754.3,1723.7 755.1,1724.9 755.9,1728.4 756.6,1730.9 757.4,1735.1 758.1,1737.9 758.9,1742.4 759.6,1745.3 760.3,1743.4 761.0,1742.5 761.8,1747.8 762.5,1747.0 763.2,1748.5 763.9,1747.4 764.6,1745.1 765.4,1744.2 766.1,1740.5 766.9,1736.6 767.6,1736.3 768.4,1734.1 769.1,1731.9 769.9,1730.9 770.6,1723.9 771.4,1724.8 772.2,1722.9 772.9,1718.4 773.7,1716.8 774.4,1715.6 775.2,1712.4 776.0,1708.6 776.7,1708.7 777.5,1704.7 778.2,1704.0 779.0,1699.7 779.7,1698.1 780.4,1691.2 781.1,1685.9 781.9,1684.1 782.6,1681.5 783.3,1676.6 784.0,1672.0 784.8,1669.2 785.5,1667.4 786.3,1668.1 787.0,1667.3 787.8,1669.4 788.6,1667.7 789.3,1668.4 790.1,1665.9 790.8,1668.3 791.6,1664.4 792.3,1661.3 793.0,1659.1 793.7,1654.1 794.5,1652.4 795.2,1650.4 795.9,1646.6 796.6,1641.8 797.2,1625.4 797.9,1603.1 798.5,1586.2 799.1,1566.4 799.7,1544.5 800.4,1516.7 801.0,1490.8 801.6,1465.8 802.2,1442.2 802.9,1418.4 803.5,1396.4 804.1,1372.7 804.8,1381.5 805.6,1385.9 806.3,1391.1 807.0,1395.8 807.7,1401.3 808.5,1413.9 809.2,1415.5 809.8,1433.6 810.5,1453.5 811.1,1471.3 811.7,1490.9 812.4,1494.9 813.1,1497.4 813.8,1502.0 814.6,1508.0 815.3,1507.6 816.0,1513.5 816.7,1516.0 817.4,1523.2 818.2,1531.8 818.9,1536.5 819.6,1545.6 820.3,1550.3 821.1,1555.9 821.8,1566.4 822.5,1573.0 823.2,1582.7 823.9,1591.3 824.7,1601.7 825.4,1613.3 826.1,1618.2 826.8,1629.2 827.5,1635.4 828.2,1640.3 828.9,1644.1 829.7,1649.1 830.4,1657.0 831.1,1662.5 831.8,1667.0 832.6,1668.9 833.3,1671.8 834.1,1674.5 834.8,1674.7 835.6,1679.8 836.4,1682.6 837.1,1687.8 837.9,1684.8 838.6,1688.0 839.4,1692.1 840.1,1698.0 840.8,1702.5 841.5,1708.6 842.3,1715.1 843.0,1720.4 843.7,1726.6 844.4,1732.4 845.1,1737.5 845.8,1738.1 846.5,1746.3 847.3,1745.5 848.0,1757.0 848.7,1759.9 849.4,1762.5 850.2,1762.2 850.9,1765.9 851.7,1764.5 852.4,1766.3 853.2,1767.6 854.0,1767.6 854.7,1767.8 855.5,1769.6 856.2,1768.9 857.0,1770.0 857.8,1769.1 858.6,1767.8 859.4,1766.0 860.2,1771.8 860.9,1770.1 861.7,1765.9 862.5,1768.9 863.3,1768.3 864.1,1763.7 864.9,1765.9 865.7,1766.9 866.5,1770.0 867.3,1768.6 868.1,1768.6 868.8,1766.7 869.6,1767.6 870.4,1763.4 871.2,1766.4 872.0,1765.0 872.8,1766.9 873.6,1763.9 874.3,1767.3 875.1,1770.1 875.9,1771.5 876.7,1771.1 877.4,1767.9 878.2,1769.6 879.0,1769.4 879.8,1773.1 880.5,1770.0 881.3,1770.2 882.1,1772.6 882.9,1767.7 883.6,1769.0 884.4,1767.4 885.1,1763.6 885.9,1761.3 886.7,1760.3 887.4,1761.0 888.2,1754.2 888.9,1754.5 889.7,1752.5 890.5,1752.6 891.3,1752.6 892.0,1753.9 892.8,1752.8 893.6,1751.5 894.4,1753.3 895.2,1752.4 896.0,1750.6 896.7,1750.1 897.5,1747.3 898.3,1749.3 899.1,1747.4 899.9,1746.4 900.6,1747.6 901.4,1744.7 902.2,1747.4 903.0,1746.1 903.8,1747.0 904.5,1748.7 905.3,1747.7 906.1,1749.2 906.9,1751.5 907.6,1750.3 908.4,1747.0 909.2,1746.0 910.0,1747.8 910.7,1748.0 911.5,1746.3 912.3,1750.0 913.0,1748.7 913.8,1750.4 914.5,1754.2 915.3,1759.6 916.0,1761.9 916.8,1758.7 917.5,1761.5 918.3,1761.6 919.0,1762.8 919.8,1767.6 920.6,1764.9 921.3,1762.6 922.1,1758.8 922.8,1758.5 923.6,1754.3 924.4,1754.3 925.1,1748.9 925.9,1748.8 926.6,1744.4 927.4,1742.4 928.2,1741.2 929.0,1740.9 929.8,1736.1 930.5,1735.9 931.3,1735.8 932.1,1734.2 932.9,1733.9 933.7,1730.7 934.5,1728.5 935.3,1729.5 936.1,1728.9 936.9,1725.7 937.6,1728.1 938.4,1725.9 939.2,1724.9 940.0,1722.3 940.8,1724.2 941.6,1721.9 942.3,1727.9 943.1,1723.4 943.9,1726.0 944.7,1727.3 945.5,1727.2 946.2,1727.6 947.0,1726.5 947.8,1727.9 948.6,1729.3 949.4,1732.2 950.2,1729.3 950.9,1732.4 951.7,1732.6 952.5,1732.4 953.3,1733.9 954.0,1734.0 954.8,1736.0 955.5,1734.4 956.3,1739.0 957.1,1740.6 957.8,1740.4 958.6,1743.5 959.3,1744.4 960.1,1745.0 960.9,1744.0 961.6,1747.0 962.4,1744.7 963.2,1750.2 963.9,1744.2 964.7,1744.8 965.5,1745.3 966.3,1747.1 967.0,1748.9 967.8,1747.2 968.6,1746.5 969.3,1750.8 970.1,1747.4 970.9,1750.2 971.7,1748.6 972.4,1749.7 973.2,1747.9 974.0,1751.5 974.8,1755.3 975.5,1750.9 976.3,1751.2 977.1,1754.8 977.9,1751.0 978.6,1758.6 979.4,1754.1 980.2,1757.5 981.0,1756.9 981.8,1758.6 982.6,1761.6 983.4,1760.8 984.1,1757.3 984.9,1758.3 985.7,1762.3 986.5,1758.8 987.3,1762.7 988.1,1762.4 988.9,1765.9 989.6,1767.2 990.4,1761.2 991.2,1767.1 992.0,1768.1 992.8,1767.6 993.6,1765.4 994.3,1764.9 995.1,1763.1 995.9,1763.8 996.6,1764.4 997.4,1765.3 998.2,1764.7 999.0,1760.8 999.7,1759.1 1000.5,1761.6 1001.3,1754.4 1002.0,1755.7 1002.8,1757.5 1003.6,1757.8 1004.4,1759.9 1005.1,1753.7 1005.9,1754.5 1006.7,1751.5 1007.5,1752.6 1008.2,1751.9 1009.0,1749.9 1009.8,1751.1 1010.6,1749.4 1011.3,1749.8 1012.1,1747.8 1012.9,1747.4 1013.6,1742.2 1014.4,1741.6 1015.1,1739.9 1015.9,1733.9 1016.6,1734.7 1017.4,1730.1 1018.1,1725.6 1018.9,1723.4 1019.6,1719.5 1020.4,1717.3 1021.0,1708.8 1021.7,1705.3 1022.4,1698.4 1023.0,1690.0 1023.8,1688.2 1024.6,1687.6 1025.3,1686.6 1026.1,1687.2 1026.9,1687.6 1027.7,1684.0 1028.5,1683.9 1029.2,1686.8 1030.0,1687.3 1030.7,1689.5 1031.5,1692.2 1032.2,1689.2 1033.0,1688.2 1033.7,1692.7 1034.5,1691.3 1035.2,1695.3 1035.9,1701.2 1036.6,1699.8 1037.3,1703.5 1038.1,1707.3 1038.8,1710.1 1039.5,1711.9 1040.2,1715.5 1040.9,1719.8 1041.7,1725.8 1042.4,1727.9 1043.1,1736.1 1043.8,1737.7 1044.6,1737.1 1045.3,1745.6 1046.0,1750.8 1046.7,1749.7 1047.4,1757.0 1048.2,1764.1 1048.9,1765.6 1049.6,1765.2 1050.3,1770.8 1051.1,1769.4 1051.9,1770.9 1052.6,1773.5 1053.4,1769.5 1054.2,1772.8 1055.0,1771.4 1055.7,1770.7 1056.5,1770.5 1057.3,1773.9 1058.1,1768.1 1058.8,1768.8 1059.6,1772.5 1060.4,1770.8 1061.2,1769.7 1062.0,1760.5 1062.7,1757.8 1063.5,1753.3 1064.3,1755.6 1065.0,1747.6 1065.8,1752.8 1066.6,1743.1 1067.3,1749.6 1068.0,1749.8 1068.7,1752.0 1069.4,1756.6 1070.2,1761.2 1070.9,1758.7 1071.6,1762.9 1072.3,1769.3 1073.0,1765.8 1073.8,1765.8 1074.6,1774.5 1075.4,1773.1 1076.2,1768.0 1077.0,1772.5 1077.8,1760.5 1078.6,1761.9 1079.4,1761.4 1080.2,1771.7 1081.0,1770.5 1081.8,1772.0 1082.6,1771.9 1083.4,1772.8 1084.2,1770.4 1085.0,1772.5 1085.8,1772.8 1086.6,1764.9 1087.4,1764.6 1088.1,1765.6 1088.9,1765.4 1089.7,1769.8 1090.5,1765.6 1091.3,1774.0 1092.1,1774.1 1092.9,1768.7 1093.7,1774.3 1094.5,1765.8 1095.3,1774.0 1096.1,1772.3 1096.9,1768.1 1097.7,1762.3 1098.5,1771.0 1099.3,1761.8 1100.1,1773.3 1100.9,1772.1 1101.7,1758.5 1102.5,1773.3 1103.3,1764.0 1104.1,1754.6 1104.9,1773.3 1105.7,1770.0 1106.5,1771.0 1107.3,1764.5 1108.1,1773.0 1108.9,1772.5 1109.7,1751.4 1110.5,1767.9 1111.3,1763.5 1112.1,1773.2 1112.9,1770.6 1113.7,1771.5 1114.5,1766.0 1115.3,1769.2 1116.1,1757.5 1116.9,1770.0 1117.6,1763.4 1118.4,1770.5 1119.2,1764.1 1120.0,1770.7 1120.8,1774.3 1121.6,1769.1 1122.4,1764.0 1123.2,1768.2 1124.0,1757.2 1124.8,1771.8 1125.6,1770.1 1126.4,1766.6 1127.2,1766.9 1128.0,1768.4 1128.8,1759.7 1129.6,1761.4 1130.4,1766.1 1131.2,1750.3 1132.0,1764.5 1132.8,1769.8 1133.6,1765.4 1134.4,1767.2 1135.2,1768.2 1136.0,1770.3 1136.8,1770.3 1137.6,1765.4 1138.4,1770.7 1139.2,1762.3 1140.0,1766.1 1140.8,1772.6 1141.6,1768.2 1142.4,1766.1 1143.2,1768.1 1144.0,1766.8 1144.8,1771.9 1145.6,1764.7 1146.4,1771.9 1147.1,1764.0 1147.9,1761.5 1148.7,1768.0 1149.5,1768.6 1150.3,1757.6 1151.1,1772.9 1151.9,1765.7 1152.7,1771.7 1153.5,1764.4 1154.3,1765.9 1155.1,1767.3 1155.9,1766.9 1156.7,1766.8 1157.5,1773.0 1158.3,1766.0 1159.1,1763.2 1159.9,1765.8 1160.7,1761.3 1161.5,1764.2 1162.3,1769.5 1163.1,1771.0 1163.9,1764.5 1164.7,1769.6 1165.5,1767.4 1166.3,1772.2 1167.1,1760.2 1167.9,1767.1 1168.7,1759.1 1169.5,1772.0 1170.3,1764.9 1171.1,1766.3 1171.9,1760.5 1172.7,1771.9 1173.5,1770.8 1174.3,1771.2 1175.1,1760.1 1175.9,1771.1 1176.6,1761.7 1177.4,1764.5 1178.2,1767.5 1179.0,1771.4 1179.8,1763.9 1180.6,1759.4 1181.4,1768.6 1182.2,1769.5 1183.0,1766.5 1183.8,1768.1 1184.6,1767.8 1185.4,1763.4 1186.2,1760.1 1187.0,1768.5 1187.8,1760.9 1188.6,1769.9 1189.4,1773.4 1190.2,1766.0 1191.0,1767.6 1191.8,1770.6 1192.6,1760.7 1193.4,1770.1 1194.2,1770.4 1195.0,1771.6 1195.8,1753.7 1196.6,1767.7 1197.4,1769.9 1198.2,1768.7 1199.0,1766.0 1199.8,1755.5 1200.6,1775.2 1201.4,1761.9 1202.2,1754.3 1203.0,1754.4 1203.8,1765.9 1204.6,1769.7 1205.4,1770.3 1206.1,1770.1 1206.9,1773.7 1207.7,1773.7 1208.5,1759.1 1209.3,1769.7 1210.1,1774.0 1210.9,1762.0 1211.7,1764.9 1212.5,1768.1 1213.3,1766.8 1214.1,1771.9 1214.9,1763.4 1215.7,1774.2 1216.5,1759.0 1217.3,1771.5 1218.1,1767.8 1218.9,1773.1 1219.7,1767.0 1220.5,1760.6 1221.3,1765.6 1222.1,1763.4 1222.9,1770.5 1223.7,1772.0 1224.5,1771.0 1225.3,1768.9 1226.1,1768.3 1226.9,1766.8 1227.7,1761.3 1228.5,1761.7 1229.3,1767.0 1230.1,1767.5 1230.9,1766.3 1231.7,1760.6 1232.5,1764.2 1233.3,1765.4 1234.1,1767.6 1234.9,1764.6 1235.6,1758.5 1236.4,1759.8 1237.2,1763.8 1238.0,1769.5 1238.8,1760.0 1239.6,1767.9 1240.4,1768.0 1241.2,1762.2 1242.0,1765.4 1242.8,1769.3 1243.6,1762.0 1244.4,1757.8 1245.2,1770.4 1246.0,1760.3 1246.8,1770.4 1247.6,1770.2 1248.4,1770.3 1249.2,1765.2 1250.0,1764.0 1250.8,1772.5 1251.6,1769.5 1252.4,1770.4 1253.2,1764.7 1254.0,1766.5 1254.8,1760.0 1255.6,1761.7 1256.4,1765.5 1257.2,1759.4 1258.0,1767.5 1258.8,1763.2 1259.6,1765.6 1260.4,1760.2 1261.2,1771.7 1262.0,1770.2 1262.8,1769.4 1263.6,1759.2 1264.4,1757.2 1265.2,1767.8 1266.0,1761.0 1266.8,1770.5 1267.6,1770.6 1268.4,1749.5 1269.2,1764.0 1270.0,1768.2 1270.8,1751.6 1271.6,1768.0 1272.4,1759.6 1273.2,1754.7 1274.0,1763.8 1274.8,1764.2 1275.6,1767.6 1276.4,1767.0 1277.2,1761.9 1278.0,1763.6 1278.8,1771.3 1279.6,1766.6 1280.4,1772.4 1281.2,1769.1 1281.9,1768.9 1282.7,1768.3 1283.5,1769.3 1284.3,1769.9 1285.1,1768.3 1285.9,1767.4 1286.7,1770.7 1287.5,1766.9 1288.3,1771.1 1289.1,1765.3 1289.9,1769.7 1290.7,1765.2 1291.5,1763.5 1292.3,1771.1 1293.1,1768.5 1293.9,1769.6 1294.7,1770.7 1295.5,1764.1 1296.3,1768.3 1297.1,1770.5 1297.9,1769.2 1298.7,1771.5 1299.5,1772.6 1300.3,1771.0 1301.1,1773.5 1301.9,1762.1 1302.7,1773.2 1303.5,1772.0 1304.3,1773.7 1305.1,1771.3 1305.9,1765.6 1306.7,1761.8 1307.5,1771.1 1308.3,1770.1 1309.1,1773.5 1309.9,1774.8 1310.7,1760.6 1311.5,1771.2 1312.3,1775.5 1313.1,1769.8 1313.9,1774.8 1314.7,1770.8 1315.5,1774.2 1316.3,1772.0 1317.1,1775.7 1317.9,1771.5 1318.7,1771.9 1319.5,1766.9 1320.3,1767.5 1321.1,1770.5 1321.9,1765.8 1322.7,1768.3 1323.5,1772.8 1324.3,1768.0 1325.1,1767.7 1325.9,1768.1 1326.7,1769.2 1327.5,1770.1 1328.3,1770.0 1329.1,1770.3 1329.9,1768.4 1330.7,1766.5 1331.5,1772.5 1332.3,1763.4 1333.1,1752.7 1333.9,1767.9 1334.7,1769.5 1335.5,1759.9 1336.3,1762.4 1337.1,1767.6 1337.9,1769.9 1338.7,1769.8 1339.5,1768.4 1340.3,1764.4 1341.1,1757.4 1341.9,1762.7 1342.7,1769.3 1343.5,1762.1 1344.2,1770.3 1345.0,1764.8 1345.8,1765.9 1346.6,1770.0 1347.4,1768.7 1348.2,1767.4 1349.0,1758.9 1349.8,1764.9 1350.6,1746.8 1351.4,1768.6 1352.2,1769.4 1353.0,1763.2 1353.8,1768.5 1354.6,1763.3 1355.4,1762.6 1356.2,1766.2 1357.0,1763.1 1357.8,1757.7 1358.6,1764.3 1359.4,1768.8 1360.2,1761.3 1361.0,1751.7 1361.8,1767.1 1362.6,1768.5 1363.4,1766.4 1364.2,1758.9 1365.0,1763.8 1365.8,1761.4 1366.6,1765.6 1367.4,1765.8 1368.2,1762.5 1369.0,1763.1 1369.8,1761.8 1370.6,1761.7 1371.4,1768.1 1372.2,1759.6 1373.0,1760.2 1373.8,1761.6 1374.6,1753.4 1375.4,1762.0 1376.2,1768.4 1377.0,1768.8 1377.8,1764.4 1378.6,1769.1 1379.4,1764.7 1380.2,1765.9 1381.0,1763.0 1381.8,1757.4 1382.6,1751.1 1383.4,1764.0 1384.2,1754.3 1385.0,1767.6 1385.8,1766.6 1386.6,1753.7 1387.4,1769.3 1388.2,1769.3 1389.0,1766.2 1389.8,1761.8 1390.6,1763.7 1391.4,1770.2 1392.2,1765.1 1393.0,1765.9 1393.8,1767.0 1394.6,1769.1 1395.4,1759.9 1396.2,1759.5 1397.0,1757.5 1397.8,1755.3 1398.6,1765.8 1399.4,1760.2 1400.2,1767.2 1401.0,1766.1 1401.8,1765.3 1402.6,1767.6 1403.4,1765.1 1404.2,1768.3 1405.0,1768.2 1405.8,1761.9 1406.5,1762.1 1407.3,1755.6 1408.1,1763.2 1408.9,1768.8 1409.7,1760.8 1410.5,1765.8 1411.3,1749.5 1412.1,1765.8 1412.9,1768.9 1413.7,1765.8 1414.5,1766.4 1415.3,1764.0 1416.1,1759.6 1416.9,1763.5 1417.7,1767.4 1418.5,1760.1 1419.3,1761.6 1420.1,1763.7 1420.9,1761.9 1421.7,1762.2 1422.5,1763.1 1423.3,1769.3 1424.1,1759.3 1424.9,1764.8 1425.7,1768.8 1426.5,1760.2 1427.3,1768.2 1428.1,1750.7 1428.9,1764.6 1429.7,1763.5 1430.5,1768.2 1431.3,1757.4 1432.1,1768.5 1432.9,1760.8 1433.7,1764.7 1434.5,1768.4 1435.3,1767.2 1436.1,1759.5 1436.9,1747.5 1437.7,1756.6 1438.5,1762.4 1439.3,1767.6 1440.1,1762.6 1440.9,1762.7 1441.7,1757.0 1442.5,1760.7 1443.3,1768.0 1444.1,1761.9 1444.9,1767.2 1445.7,1767.7 1446.5,1767.2 1447.3,1766.8 1448.1,1768.1 1448.9,1759.4 1449.7,1767.6 1450.5,1768.3 1451.3,1759.2 1452.1,1762.1 1452.9,1758.7 1453.7,1763.1 1454.5,1757.2 1455.3,1767.9 1456.1,1760.8 1456.9,1767.9 1457.7,1759.3 1458.5,1761.2 1459.3,1765.8 1460.1,1760.4 1460.9,1758.3 1461.7,1765.8 1462.5,1766.9 1463.3,1755.6 1464.1,1766.5 1464.9,1763.3 1465.7,1756.9 1466.5,1760.3 1467.3,1766.3 1468.1,1757.2 1468.8,1762.4 1469.6,1765.9 1470.4,1767.8 1471.2,1765.4 1472.0,1766.1 1472.8,1764.0 1473.6,1768.5 1474.4,1762.6 1475.2,1760.8 1476.0,1757.2 1476.8,1769.0 1477.6,1766.6 1478.4,1760.4 1479.2,1766.6 1480.0,1752.2 1480.8,1761.1 1481.6,1770.8 1482.4,1760.4 1483.2,1768.2 1484.0,1767.9 1484.8,1769.2 1485.6,1767.1 1486.4,1760.1 1487.2,1771.4 1488.0,1766.9 1488.8,1767.7 1489.6,1769.8 1490.4,1766.3 1491.2,1769.3 1492.0,1763.1 1492.8,1772.1 1493.6,1764.6 1494.4,1768.9 1495.2,1772.9 1496.0,1768.1 1496.8,1767.8 1497.6,1748.3 1498.4,1768.8 1499.2,1757.2 1500.0,1762.0 1500.8,1771.3 1501.6,1756.1 1502.4,1761.9 1503.2,1751.3 1504.0,1769.0 1504.8,1763.5 1505.6,1767.2 1506.4,1772.4 1507.2,1772.8 1508.0,1763.5 1508.8,1769.4 1509.6,1752.4 1510.4,1771.2 1511.2,1772.9 1512.0,1757.2 1512.8,1768.9 1513.6,1761.1 1514.4,1771.6 1515.2,1772.8 1516.0,1757.0 1516.8,1765.1 1517.6,1773.7 1518.4,1767.8 1519.2,1769.2 1520.0,1770.7 1520.8,1762.4 1521.6,1759.8 1522.4,1771.4 1523.2,1774.7 1524.0,1766.0 1524.8,1774.5 1525.6,1769.7 1526.4,1775.1 1527.2,1767.2 1528.0,1770.6 1528.8,1747.7 1529.6,1774.7 1530.4,1758.1 1531.2,1768.9 1532.0,1769.2 1532.8,1774.1 1533.6,1768.0 1534.4,1771.0 1535.2,1775.2 1536.0,1774.1 1536.8,1773.3 1537.6,1769.8 1538.4,1774.3 1539.2,1769.3 1540.0,1765.9 1540.8,1774.2 1541.6,1767.6 1542.4,1773.8 1543.2,1753.4 1544.0,1756.6 1544.8,1773.5 1545.6,1764.7 1546.4,1770.2 1547.2,1762.8 1548.0,1771.6 1548.8,1770.4 1549.6,1768.6 1550.4,1770.1 1551.2,1775.6 1552.0,1775.2 1552.8,1770.9 1553.6,1774.5 1554.4,1771.0 1555.2,1774.2 1556.0,1769.5 1556.8,1769.6 1557.6,1771.6 1558.4,1771.1 1559.2,1775.6 1560.0,1763.0 1560.8,1750.0 1561.6,1765.1 1562.4,1775.6 1563.2,1770.0 1563.9,1769.8 1564.7,1763.0 1565.5,1761.2 1566.3,1765.8 1567.1,1752.9 1567.9,1766.3 1568.7,1773.1 1569.5,1766.2 1570.3,1757.4 1571.1,1756.2 1571.8,1753.5 1572.6,1757.9 1573.4,1763.3 1574.2,1761.6 1575.0,1757.0 1575.8,1762.4 1576.6,1766.2 1577.4,1750.7 1578.2,1762.8 1578.9,1755.3 1579.7,1767.3 1580.5,1753.2 1581.3,1761.8 1582.1,1751.9 1582.9,1765.3 1583.7,1755.9 1584.5,1766.8 1585.3,1763.5 1586.1,1761.3 1586.8,1762.3 1587.6,1762.9 1588.4,1759.3 1589.2,1757.2 1590.0,1760.0 1590.8,1766.3 1591.6,1751.9 1592.4,1754.2 1593.2,1751.9 1593.9,1763.0 1594.7,1759.8 1595.5,1762.3 1596.3,1756.5 1597.1,1761.1 1597.9,1760.6 1598.7,1753.0 1599.5,1755.1 1600.3,1757.4 1601.1,1756.0 1601.8,1749.4 1602.6,1755.5 1603.4,1747.4 1604.2,1761.6 1605.0,1755.0 1605.8,1761.6 1606.5,1760.8 1607.3,1739.8 1608.1,1754.3 1608.8,1746.1 1609.6,1750.2 1610.4,1743.8 1611.2,1756.8 1611.9,1754.3 1612.7,1755.1 1613.5,1753.0 1614.2,1746.3 1615.0,1745.0 1615.8,1740.6 1616.5,1741.3 1617.3,1748.7 1618.1,1757.0 1618.8,1761.6 1619.6,1753.8 1620.4,1761.0 1621.2,1748.5 1621.9,1755.0 1622.7,1760.1 1623.5,1769.0 1624.2,1769.9 1625.0,1757.0 1625.8,1766.9 1626.6,1760.4 1627.4,1764.7 1628.2,1769.1 1629.0,1758.1 1629.8,1770.6 1630.5,1773.0 1631.3,1755.6 1632.1,1770.6 1632.9,1757.4 1633.7,1769.6 1634.5,1769.1 1635.3,1772.6 1636.1,1764.8 1636.9,1756.2 1637.7,1754.9 1638.5,1767.0 1639.3,1765.4 1640.1,1772.3 1640.9,1752.5 1641.6,1767.9 1642.4,1763.5 1643.2,1770.2 1644.0,1759.1 1644.8,1769.9 1645.6,1763.3 1646.4,1768.2 1647.2,1766.7 1648.0,1770.0 1648.8,1761.7 1649.6,1759.1 1650.4,1768.8 1651.2,1760.7 1652.0,1763.6 1652.7,1762.0 1653.5,1756.3 1654.3,1759.4 1655.1,1766.9 1655.9,1764.8 1656.7,1758.3 1657.5,1764.7 1658.3,1764.7 1659.1,1755.6 1659.9,1762.8 1660.7,1767.4 1661.5,1762.1 1662.3,1763.0 1663.0,1762.9 1663.8,1759.9 1664.6,1749.9 1665.4,1764.4 1666.2,1755.9 1667.0,1761.0 1667.8,1752.0 1668.6,1750.2 1669.4,1768.6 1670.2,1749.4 1671.0,1765.7 1671.8,1753.9 1672.6,1766.3 1673.4,1752.7 1674.1,1766.6 1674.9,1769.8 1675.7,1757.5 1676.5,1767.1 1677.3,1764.5 1678.1,1762.3 1678.9,1766.7 1679.7,1768.8 1680.5,1770.0 1681.3,1763.1 1682.1,1768.2 1682.9,1764.6 1683.7,1764.3 1684.5,1770.3 1685.2,1761.8 1686.0,1764.2 1686.8,1762.6 1687.6,1761.7 1688.4,1748.7 1689.2,1769.6 1690.0,1758.0 1690.8,1760.8 1691.5,1761.8 1692.3,1758.4 1693.1,1756.3 1693.8,1760.1 1694.6,1759.2 1695.4,1763.6 1696.2,1757.6 1696.9,1761.6 1697.7,1763.4 1698.5,1758.4 1699.2,1757.9 1700.0,1752.0 1700.8,1758.9 1701.5,1758.5 1702.3,1752.6 1703.1,1751.1 1703.8,1750.1 1704.6,1757.9 1705.4,1747.8 1706.1,1752.1 1706.9,1752.9 1707.6,1748.4 1708.4,1753.5 1709.2,1750.4 1709.9,1738.4 1710.7,1744.7 1711.5,1748.2 1712.2,1731.6 1713.0,1742.0 1713.8,1745.0 1714.6,1744.3 1715.4,1746.2 1716.2,1745.0 1717.0,1744.4 1717.8,1747.6 1718.6,1747.8 1719.4,1747.6 1720.2,1734.3 1721.0,1750.2 1721.8,1748.8 1722.6,1744.9 1723.4,1749.2 1724.2,1737.9 1725.0,1750.0 1725.8,1753.2 1726.6,1746.2 1727.4,1755.0 1728.2,1756.2 1729.0,1753.6 1729.8,1749.8 1730.6,1741.5 1731.4,1757.6 1732.2,1752.8 1733.0,1743.0 1733.8,1759.0 1734.6,1747.4 1735.4,1756.5 1736.2,1756.6 1737.0,1744.9 1737.8,1757.8 1738.6,1756.2 1739.4,1761.1 1740.2,1759.3 1741.0,1752.0 1741.8,1760.4 1742.5,1749.0 1743.2,1762.0 1744.0,1755.8 1744.8,1764.0 1745.5,1753.8 1746.2,1746.5 1747.0,1764.2 1747.8,1766.1 1748.5,1759.7 1749.2,1769.7 1750.0,1762.0 1750.8,1762.3 1751.6,1765.4 1752.3,1768.2 1753.1,1755.3 1753.9,1774.0 1754.7,1757.3 1755.4,1749.0 1756.2,1765.8 1757.0,1769.0 1757.8,1767.2 1758.6,1755.4 1759.3,1759.6 1760.1,1763.5 1760.9,1774.3 1761.7,1770.8 1762.4,1756.3 1763.2,1773.3 1764.0,1761.8 1764.8,1765.5 1765.6,1776.4 1766.3,1772.8 1767.1,1766.9 1767.9,1774.1 1768.7,1758.5 1769.4,1756.4 1770.2,1770.5 1771.0,1765.6 1771.8,1768.7 1772.6,1771.1 1773.3,1771.4 1774.1,1771.4 1774.9,1773.9 1775.7,1767.5 1776.4,1772.4 1777.2,1776.2 1778.0,1769.0 1778.8,1760.1 1779.6,1764.5 1780.4,1760.9 1781.2,1753.3 1782.0,1757.0 1782.8,1744.5 1783.6,1744.6 1784.4,1753.6 1785.2,1752.0 1786.0,1762.4 1786.8,1754.9 1787.6,1739.8 1788.4,1748.9 1789.2,1758.5 1790.0,1753.1 1790.8,1761.3 1791.6,1751.4 1792.4,1760.4 1793.2,1761.5 1794.0,1757.0 1794.8,1743.4 1795.6,1750.7 1796.4,1756.5 1797.2,1745.9 1798.0,1746.4 1798.8,1758.8 1799.6,1748.8 1800.4,1742.4 1801.2,1758.1 1802.0,1740.4 1802.8,1755.0 1803.6,1744.1 1804.4,1739.0 1805.2,1731.3 1806.0,1753.0 1806.8,1753.5 1807.6,1744.7 1808.4,1758.2 1809.2,1754.0 1810.0,1744.2 1810.8,1758.0 1811.6,1753.0 1812.4,1753.7 1813.2,1752.3 1814.0,1757.3 1814.8,1759.4 1815.6,1751.5 1816.4,1754.0 1817.2,1754.5 1818.0,1758.9 1818.8,1757.3 1819.6,1747.0 1820.4,1753.6 1821.2,1760.6 1822.0,1753.0 1822.8,1760.0 1823.6,1742.9 1824.4,1760.3 1825.2,1756.6 1826.0,1761.0 1826.8,1769.7 1827.6,1770.1 1828.4,1769.7 1829.2,1760.3 1830.0,1767.3 1830.8,1755.2 1831.6,1763.2 1832.4,1761.0 1833.2,1768.3 1834.0,1767.0 1834.8,1755.1 1835.6,1761.2 1836.4,1768.8 1837.2,1762.9 1838.0,1762.7 1838.8,1762.6 1839.6,1765.5 1840.4,1761.6 1841.2,1769.9 1842.0,1761.9 1842.8,1768.6 1843.6,1754.2 1844.4,1753.4 1845.2,1765.7 1846.0,1767.7 1846.8,1753.5 1847.6,1767.6 1848.4,1759.2 1849.2,1761.7 1850.0,1761.0 1850.8,1766.8 1851.6,1764.2 1852.4,1768.4 1853.2,1754.5 1854.0,1765.4 1854.8,1763.1 1855.6,1750.8 1856.4,1767.3 1857.2,1762.7 1858.0,1768.8 1858.8,1761.6 1859.6,1753.0 1860.4,1755.1 1861.2,1768.2 1862.0,1757.1 1862.8,1760.3 1863.6,1755.5 1864.4,1765.9 1865.2,1763.8 1866.0,1755.2 1866.8,1749.1 1867.6,1765.7 1868.4,1763.9 1869.2,1761.5 1870.0,1766.5 1870.8,1765.6 1871.6,1766.4 1872.4,1767.5 1873.2,1745.5 1874.0,1761.0 1874.8,1765.1 1875.6,1761.4 1876.4,1752.9 1877.2,1752.5 1878.0,1755.0 1878.8,1756.1 1879.6,1759.0 1880.4,1750.0 1881.1,1754.3 1881.9,1751.4 1882.7,1751.3 1883.5,1756.6 1884.3,1751.4 1885.0,1752.0 1885.8,1750.6 1886.5,1749.7 1887.3,1749.1 1888.0,1747.4 1888.8,1741.6 1889.6,1739.5 1890.3,1739.7 1891.1,1735.2 1891.8,1736.2 1892.6,1734.1 1893.3,1729.1 1894.1,1728.5 1894.9,1725.7 1895.7,1722.9 1896.4,1717.5 1897.2,1712.5 1898.0,1708.7 1898.8,1705.8 1899.5,1700.1 1900.3,1697.8 1901.1,1693.3 1901.8,1682.4 1902.5,1671.1 1903.2,1660.2 1903.9,1652.0 1904.6,1640.5 1905.3,1628.7 1906.0,1619.8 1906.8,1606.1 1907.5,1598.0 1908.2,1587.7 1908.9,1582.3 1909.6,1577.0 1910.3,1572.3 1911.0,1566.0 1911.7,1559.5 1912.4,1553.4 1913.1,1545.1 1913.8,1536.9 1914.5,1529.7 1915.2,1524.3 1916.0,1521.3 1916.8,1520.8 1917.5,1520.0 1918.3,1517.1 1919.1,1514.9 1919.9,1513.8 1920.6,1510.2 1921.4,1509.0 1922.2,1506.7 1923.0,1504.8 1923.7,1503.6 1924.5,1501.2 1925.2,1497.8 1926.0,1497.4 1926.7,1495.0 1927.5,1497.0 1928.3,1494.8 1929.0,1490.0 1929.8,1487.8 1930.5,1487.4 1931.3,1483.4 1932.0,1485.7 1932.8,1482.0 1933.5,1474.9 1934.2,1467.3 1934.9,1462.5 1935.6,1455.8 1936.3,1446.8 1936.9,1423.6 1937.5,1401.4 1938.1,1376.4 1938.8,1359.9 1939.5,1347.1 1940.2,1332.9 1940.9,1317.7 1941.6,1306.0 1942.3,1293.2 1943.0,1281.4 1943.7,1261.8 1944.4,1248.9 1945.1,1235.6 1945.8,1226.6 1946.5,1214.1 1947.2,1203.9 1947.9,1192.2 1948.6,1182.8 1949.3,1177.1 1950.0,1169.0 1950.8,1165.4 1951.5,1158.9 1952.2,1152.0 1952.9,1158.7 1953.6,1163.2 1954.3,1170.2 1955.0,1177.3 1955.7,1182.8 1956.4,1192.0 1957.1,1202.5 1957.8,1211.1 1958.5,1224.2 1959.2,1235.6 1959.8,1253.0 1960.4,1272.2 1961.0,1288.4 1961.6,1301.9 1962.1,1316.8 1962.7,1334.2 1963.5,1336.8 1964.3,1337.4 1965.1,1334.8 1965.9,1336.6 1966.6,1335.4 1967.4,1338.8 1968.2,1341.5 1969.0,1341.6 1969.8,1341.2 1970.5,1352.3 1971.2,1367.0 1971.9,1378.2 1972.6,1392.4 1973.3,1404.6 1974.1,1407.7 1974.8,1413.4 1975.6,1418.2 1976.3,1420.7 1977.1,1424.7 1977.8,1428.7 1978.6,1432.0 1979.4,1442.6 1980.2,1450.1 1980.9,1459.8 1981.7,1469.4 1982.5,1479.5 1983.3,1492.0 1984.1,1500.6 1984.9,1511.5 1985.7,1521.0 1986.5,1514.6 1987.2,1507.3 1988.0,1503.0 1988.7,1498.3 1989.5,1491.3 1990.2,1485.0 1991.0,1480.0 1991.8,1475.6 1992.6,1473.1 1993.4,1469.1 1994.1,1464.6 1994.9,1459.3 1995.7,1455.9 1996.5,1453.0 1997.2,1465.9 1998.0,1470.8 1998.8,1480.9 1999.5,1489.0 2000.2,1496.9 2001.0,1501.8 2001.8,1513.2 2002.5,1518.7 2003.2,1528.7 2004.0,1537.1 2004.7,1549.5 2005.4,1558.2 2006.1,1570.5 2006.7,1585.0 2007.4,1597.7 2008.1,1608.9 2008.7,1623.8 2009.4,1637.2 2010.1,1643.1 2010.8,1646.4 2011.6,1650.0 2012.3,1657.0 2013.0,1665.7 2013.6,1677.7 2014.3,1686.6 2015.0,1691.7 2015.8,1699.3 2016.5,1709.9 2017.3,1716.2 2018.1,1720.3 2018.9,1724.0 2019.6,1727.4 2020.4,1732.6 2021.2,1736.0 2022.0,1740.4 2022.8,1743.0 2023.6,1743.0 2024.4,1749.7 2025.2,1752.0 2026.1,1754.7 2027.1,1733.0 2028.3,1750.6 2029.5,1760.0 2030.4,1724.3 2031.1,1753.2 2031.7,1745.1 2032.3,1735.4 2033.0,1719.5 2033.6,1715.8 2034.8,1733.1 2036.0,1747.9 2036.6,1709.2 2037.7,1713.2 2038.8,1732.6 2039.6,1729.4 2040.8,1748.6 2041.5,1733.2 2042.2,1756.8 2043.3,1760.7 2044.3,1735.9 2044.9,1726.5 2045.5,1724.5 2046.2,1738.6 2046.9,1755.6 2047.8,1756.6 2048.7,1730.8 2049.4,1754.0 2050.3,1725.2 2051.1,1756.2 2051.7,1726.1 2052.6,1725.0 2053.3,1746.3 2054.5,1737.5 2055.7,1768.4 2056.8,1748.8 2057.6,1706.7 2058.5,1701.7 2059.5,1715.7 2060.5,1707.2 2061.5,1754.7 2062.7,1707.3 2063.8,1713.1 2064.8,1718.5 2065.8,1720.3 2067.0,1704.7 2068.0,1733.5 2068.6,1720.4 2069.2,1711.6 2070.3,1702.8 2070.9,1757.3 2072.0,1698.5 2073.1,1758.4 2074.1,1741.7 2074.8,1714.7 2075.7,1734.1 2076.9,1705.8 2078.0,1687.7 2078.7,1686.2 2079.3,1707.8 2080.4,1696.0 2081.6,1682.8 2082.2,1738.9 2083.4,1675.0 2084.1,1712.8 2084.8,1713.8 2085.8,1707.4 2086.9,1708.7 2088.0,1723.7 2088.9,1742.4 2090.1,1688.8 2091.2,1697.2 2092.4,1751.1 2093.2,1653.0 2094.1,1748.9 2094.8,1691.2 2095.4,1721.4 2096.4,1674.8 2097.2,1697.5 2098.2,1666.9 2098.9,1726.0 2100.1,1715.5 2100.7,1642.8 2101.7,1677.9 2102.8,1755.5 2103.9,1697.3 2104.5,1698.9 2105.3,1721.2 2106.3,1744.0 2106.8,1672.1 2107.9,1732.7 2108.5,1667.6 2109.5,1693.7 2110.5,1769.3 2111.1,1730.8 2112.0,1725.9 2113.2,1660.4 2114.0,1720.7 2114.7,1763.3 2115.7,1663.6 2116.7,1697.0 2117.7,1745.9 2118.6,1698.6 2119.4,1728.2 2120.3,1737.6 2121.2,1712.6 2122.3,1712.0 2122.9,1656.9 2124.1,1744.5 2125.0,1662.5 2125.8,1651.4 2126.4,1672.5 2127.3,1759.1 2128.1,1676.5 2128.7,1654.9 2129.4,1703.9 2130.4,1656.3 2131.3,1708.8 2132.1,1748.9 2133.0,1691.3 2134.1,1693.6 2134.7,1758.8 2135.7,1741.9 2136.5,1653.0 2137.1,1731.1 2137.8,1752.2 2138.5,1634.5 2139.5,1751.5 2140.3,1710.5 2140.9,1712.3 2142.1,1699.6 2142.9,1678.8 2143.8,1685.3 2144.4,1693.6 2145.1,1748.0 2146.1,1712.2 2147.1,1711.8 2147.8,1740.2 2148.8,1761.0 2149.5,1734.4 2150.3,1750.2 2150.9,1676.5 2151.4,1716.7 2152.5,1703.3 2153.7,1759.6 2154.5,1771.5 2155.5,1710.9 2156.4,1726.6 2157.1,1727.3 2158.2,1661.0 2158.8,1760.2 2159.6,1736.4 2160.2,1676.9 2161.0,1646.9 2162.1,1724.2 2162.8,1698.9 2163.6,1653.6 2164.8,1684.8 2165.6,1743.9 2166.3,1706.3 2167.0,1677.9 2167.7,1722.7 2168.6,1656.4 2169.6,1687.7 2170.5,1678.5 2171.3,1745.3 2172.3,1676.1 2172.9,1711.4 2173.9,1686.9 2174.5,1738.7 2175.3,1688.3 2176.2,1741.8 2177.1,1758.6 2177.8,1764.2 2178.8,1700.5 2180.0,1709.5 2181.2,1683.6 2182.1,1713.9 2182.6,1754.5 2183.2,1752.0 2184.0,1717.0 2184.8,1746.1 2186.0,1706.8"/>
</g>
<g fill="none" stroke="#404040" stroke-width="7.4" stroke-dasharray="21.3 17.83" stroke-linejoin="miter"><path d="M313.9,837.0H387.2V1760.6H313.9"/><path d="M317.6,833.3V1764.3"/><path d="M472.9,750.0H523.6V1713.9H472.9"/><path d="M476.6,746.3V1717.6"/><path d="M536.3,613.2H588.0V1772.0H536.3"/><path d="M540.0,609.5V1775.7"/><path d="M640.3,627.7H734.7V1743.4H640.3"/><path d="M644.0,624.0V1747.1"/><path d="M761.1,766.0H856.4V1778.2H761.1"/><path d="M764.8,762.3V1781.9"/><path d="M972.8,945.7H1079.0V1782.3H972.8"/><path d="M976.5,942.0V1786.0"/><path d="M1871.3,122.4H2024.0V1781.3H1871.3"/><path d="M1875.0,118.7V1785.0"/><path d="M2058.1,665.2H2191.6V1785.0H2058.1"/><path d="M2061.8,661.5V1788.7"/></g>
<g fill="#000">
<rect x="59.4" y="1789.5" width="2130.5" height="15.5"/>
<rect x="59.1" y="1804.0" width="14.0" height="13.5"/><rect x="137.5" y="1804.0" width="14.0" height="13.5"/><rect x="215.8" y="1804.0" width="14.0" height="13.5"/><rect x="294.2" y="1804.0" width="14.0" height="26.0"/><rect x="372.6" y="1804.0" width="14.0" height="13.5"/><rect x="451.0" y="1804.0" width="14.0" height="13.5"/><rect x="529.3" y="1804.0" width="14.0" height="13.5"/><rect x="607.7" y="1804.0" width="14.0" height="26.0"/><rect x="686.1" y="1804.0" width="14.0" height="13.5"/><rect x="764.5" y="1804.0" width="14.0" height="13.5"/><rect x="842.8" y="1804.0" width="14.0" height="13.5"/><rect x="921.2" y="1804.0" width="14.0" height="26.0"/><rect x="999.6" y="1804.0" width="14.0" height="13.5"/><rect x="1078.0" y="1804.0" width="14.0" height="13.5"/><rect x="1156.3" y="1804.0" width="14.0" height="13.5"/><rect x="1234.7" y="1804.0" width="14.0" height="26.0"/><rect x="1313.1" y="1804.0" width="14.0" height="13.5"/><rect x="1391.5" y="1804.0" width="14.0" height="13.5"/><rect x="1469.8" y="1804.0" width="14.0" height="13.5"/><rect x="1548.2" y="1804.0" width="14.0" height="26.0"/><rect x="1626.6" y="1804.0" width="14.0" height="13.5"/><rect x="1705.0" y="1804.0" width="14.0" height="13.5"/><rect x="1783.3" y="1804.0" width="14.0" height="13.5"/><rect x="1861.7" y="1804.0" width="14.0" height="26.0"/><rect x="1940.1" y="1804.0" width="14.0" height="13.5"/><rect x="2018.4" y="1804.0" width="14.0" height="13.5"/><rect x="2096.8" y="1804.0" width="14.0" height="13.5"/><rect x="2175.2" y="1804.0" width="14.0" height="26.0"/>
</g>
<g font-family="'Liberation Sans', Arial, sans-serif" font-weight="bold" font-size="96" text-anchor="middle" fill="#000">
<text transform="translate(301.2,1929) scale(1,1.025)">800</text><text transform="translate(614.7,1929) scale(1,1.025)">1200</text><text transform="translate(928.2,1929) scale(1,1.025)">1600</text><text transform="translate(1241.7,1929) scale(1,1.025)">2000</text><text transform="translate(1555.2,1929) scale(1,1.025)">2400</text><text transform="translate(1868.7,1929) scale(1,1.025)">2800</text><text transform="translate(2182.2,1929) scale(1,1.025)">3200</text>
</g>
<g fill="#fff"><rect x="513" y="1917.3" width="17" height="12.5"/><rect x="544.2" y="1917.3" width="16.5" height="12.5"/><rect x="827" y="1917.3" width="17" height="12.5"/><rect x="857.2" y="1917.3" width="17" height="12.5"/></g>
<g font-family="'Liberation Sans', Arial, sans-serif" font-weight="bold" fill="#000">
<text transform="translate(529.5,2119.5) scale(1,1.025)" font-size="129">Wavenumber</text>
<text transform="translate(1371.2,2117.5) scale(0.86,0.955)" font-size="129">(</text>
<text transform="translate(1414.6,2119.5) scale(0.992,1.025)" font-size="129">cm</text>
<text transform="translate(1602.5,2066) scale(1,1.02)" font-size="86">-</text>
<text transform="translate(1631,2066) scale(1,1.02)" font-size="88">1</text>
<text transform="translate(1683,2117.5) scale(0.86,0.955)" font-size="129">)</text>
</g>
<g fill="#fff"><rect x="1635" y="2056.3" width="16.9" height="10.5"/><rect x="1664.0" y="2056.3" width="14.6" height="10.5"/></g>
<rect x="72.8" y="76" width="128.5" height="12" fill="#000"/>
<rect x="72.8" y="177.5" width="127.5" height="12.5" fill="#f00"/>
<rect x="70.9" y="283.2" width="128.8" height="12" fill="#00f"/>
<g font-family="'Liberation Sans', Arial, sans-serif" font-size="80" fill="#000">
<text transform="translate(227.4,111.8) scale(1,1.02)">PU-INU33</text>
<text transform="translate(229.8,213.1) scale(1,1.02)">PU-INU50</text>
<text transform="translate(227.4,322.2) scale(1,1.02)">PU-INU66</text>
</g>
<g font-family="'Liberation Sans', Arial, sans-serif" font-size="61.5" fill="#404040">
<text x="48" y="813.4"><tspan font-family="'Liberation Serif', 'Times New Roman', serif">867 – ω</tspan>(C-H)</text>
<text x="157.5" y="723.7"><tspan font-family="'Liberation Serif', 'Times New Roman', serif">1064 – ν</tspan>(C-O)</text>
<text x="254.5" y="591.8"><tspan font-family="'Liberation Serif', 'Times New Roman', serif">1128 – γ</tspan>(CH)</text>
<text x="637" y="602.6" font-size="61.1">urethane amide III / <tspan font-family="'Liberation Serif', 'Times New Roman', serif">δ</tspan>(CH)</text>
<text x="762" y="732"><tspan font-family="'Liberation Serif', 'Times New Roman', serif">δ</tspan>(CH) / <tspan font-family="'Liberation Serif', 'Times New Roman', serif">ν</tspan><tspan font-size="41.5" dx="3.5" dy="15">sym</tspan><tspan dx="-0.5" dy="-15" font-size="60.6">(N=C=O)</tspan></text>
<text x="975" y="921.5"><tspan font-family="'Liberation Serif', 'Times New Roman', serif">ν</tspan>(C=O)</text>
<text x="1875" y="101.9"><tspan font-family="'Liberation Serif', 'Times New Roman', serif">ν</tspan>(C-H)</text>
<text x="2061.5" y="638.4"><tspan font-family="'Liberation Serif', 'Times New Roman', serif">ν</tspan>(N-H)</text>
</g>
</svg>
</body></html>
